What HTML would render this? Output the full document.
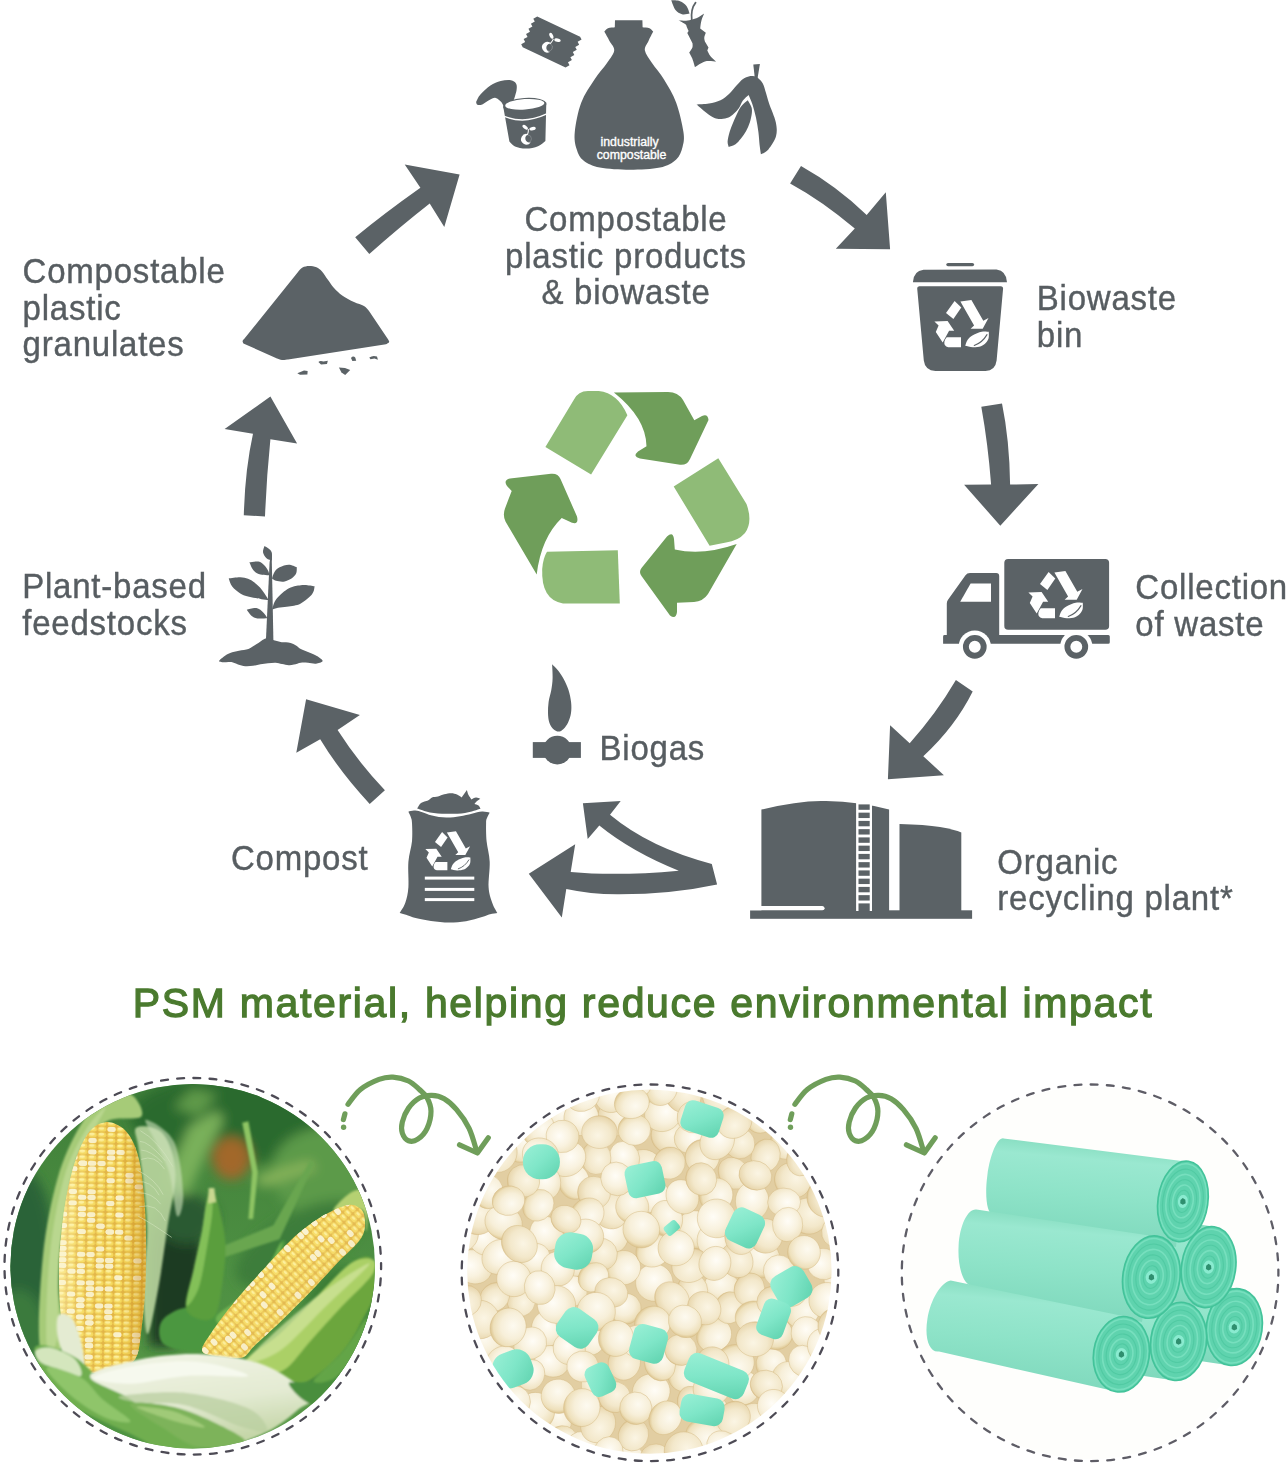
<!DOCTYPE html>
<html><head><meta charset="utf-8"><title>Compostable cycle</title>
<style>
html,body{margin:0;padding:0;background:#fff;}
body{width:1288px;height:1467px;position:relative;overflow:hidden;font-family:"Liberation Sans",sans-serif;}
.t{position:absolute;white-space:nowrap;font-family:"Liberation Sans",sans-serif;letter-spacing:0.78px;-webkit-text-stroke:0.4px #575d61;filter:blur(0.3px);}
svg{position:absolute;left:0;top:0;}
</style></head><body>

<svg width="1288" height="1467" viewBox="0 0 1288 1467">
<defs><linearGradient id="rb" x1="0.08" y1="0" x2="-0.08" y2="1"><stop offset="0" stop-color="#8adfc3"/><stop offset="0.12" stop-color="#9ae8d0"/><stop offset="0.45" stop-color="#8ee3c8"/><stop offset="0.85" stop-color="#80d9bd"/><stop offset="1" stop-color="#74cfb2"/></linearGradient></defs><circle cx="1090.1" cy="1272.8" r="186.3" fill="#fefefc"/><path d="M1170.8,1278.6L1240,1288.9L1228.6,1365.3L1159.4,1354.9C1156.1,1354.4 1156,1337 1159.1,1315.9C1162.3,1294.8 1167.5,1278.1 1170.8,1278.6Z" fill="url(#rb)"/><g transform="translate(1234.3,1327.1) rotate(8)"><ellipse rx="27.9" ry="38.6" fill="#5fd3ae"/><ellipse rx="26.1" ry="36.1" fill="none" stroke="#7fe3c3" stroke-width="1.6" opacity="0.75"/><ellipse rx="22.4" ry="31.0" fill="none" stroke="#4cc79f" stroke-width="1.1" opacity="0.75"/><ellipse rx="18.7" ry="25.9" fill="none" stroke="#7fe3c3" stroke-width="1.6" opacity="0.75"/><ellipse rx="15.1" ry="20.8" fill="none" stroke="#4cc79f" stroke-width="1.1" opacity="0.75"/><ellipse rx="11.4" ry="15.7" fill="none" stroke="#7fe3c3" stroke-width="1.6" opacity="0.75"/><ellipse rx="7.7" ry="10.7" fill="none" stroke="#4cc79f" stroke-width="1.1" opacity="0.75"/><ellipse rx="4.0" ry="5.6" fill="none" stroke="#7fe3c3" stroke-width="1.6" opacity="0.75"/><ellipse rx="27.9" ry="38.6" fill="none" stroke="#43c39a" stroke-width="1.6"/><ellipse rx="5.6" ry="6.2" fill="#8aebd0"/><path d="M-2.6,-1 L-0.6,-3.4 L2.2,-2 L3,1.4 L0.4,3.4 L-2.4,2.2Z" fill="#2f8f6f"/></g><path d="M1145.4,1216.5L1214.6,1226.8L1202.6,1307.4L1133.4,1297C1130.1,1296.5 1130.1,1278.1 1133.4,1255.9C1136.8,1233.6 1142.1,1216 1145.4,1216.5Z" fill="url(#rb)"/><g transform="translate(1208.6,1267.1) rotate(8)"><ellipse rx="27.1" ry="40.7" fill="#5fd3ae"/><ellipse rx="25.3" ry="38.0" fill="none" stroke="#7fe3c3" stroke-width="1.6" opacity="0.75"/><ellipse rx="21.8" ry="32.7" fill="none" stroke="#4cc79f" stroke-width="1.1" opacity="0.75"/><ellipse rx="18.2" ry="27.3" fill="none" stroke="#7fe3c3" stroke-width="1.6" opacity="0.75"/><ellipse rx="14.6" ry="22.0" fill="none" stroke="#4cc79f" stroke-width="1.1" opacity="0.75"/><ellipse rx="11.1" ry="16.6" fill="none" stroke="#7fe3c3" stroke-width="1.6" opacity="0.75"/><ellipse rx="7.5" ry="11.2" fill="none" stroke="#4cc79f" stroke-width="1.1" opacity="0.75"/><ellipse rx="3.9" ry="5.9" fill="none" stroke="#7fe3c3" stroke-width="1.6" opacity="0.75"/><ellipse rx="27.1" ry="40.7" fill="none" stroke="#43c39a" stroke-width="1.6"/><ellipse rx="5.4" ry="6.5" fill="#8aebd0"/><path d="M-2.6,-1 L-0.6,-3.4 L2.2,-2 L3,1.4 L0.4,3.4 L-2.4,2.2Z" fill="#2f8f6f"/></g><path d="M1115.2,1292.2L1184.4,1302.5L1172.8,1380.3L1103.6,1369.9C1100.3,1369.4 1100.2,1351.6 1103.4,1330.2C1106.6,1308.7 1111.9,1291.7 1115.2,1292.2Z" fill="url(#rb)"/><g transform="translate(1178.6,1341.4) rotate(8)"><ellipse rx="27.9" ry="39.3" fill="#5fd3ae"/><ellipse rx="26.1" ry="36.7" fill="none" stroke="#7fe3c3" stroke-width="1.6" opacity="0.75"/><ellipse rx="22.4" ry="31.5" fill="none" stroke="#4cc79f" stroke-width="1.1" opacity="0.75"/><ellipse rx="18.7" ry="26.4" fill="none" stroke="#7fe3c3" stroke-width="1.6" opacity="0.75"/><ellipse rx="15.1" ry="21.2" fill="none" stroke="#4cc79f" stroke-width="1.1" opacity="0.75"/><ellipse rx="11.4" ry="16.0" fill="none" stroke="#7fe3c3" stroke-width="1.6" opacity="0.75"/><ellipse rx="7.7" ry="10.9" fill="none" stroke="#4cc79f" stroke-width="1.1" opacity="0.75"/><ellipse rx="4.0" ry="5.7" fill="none" stroke="#7fe3c3" stroke-width="1.6" opacity="0.75"/><ellipse rx="27.9" ry="39.3" fill="none" stroke="#43c39a" stroke-width="1.6"/><ellipse rx="5.6" ry="6.3" fill="#8aebd0"/><path d="M-2.6,-1 L-0.6,-3.4 L2.2,-2 L3,1.4 L0.4,3.4 L-2.4,2.2Z" fill="#2f8f6f"/></g><path d="M1003.5,1138.4L1185.7,1161.4L1176,1247L993,1215C987,1214.1 984.5,1196.2 987.4,1175C990.3,1153.8 997.5,1137.5 1003.5,1138.4Z" fill="url(#rb)"/><g transform="translate(1182.9,1201.4) rotate(8)"><ellipse rx="25" ry="40.5" fill="#5fd3ae"/><ellipse rx="23.4" ry="37.8" fill="none" stroke="#7fe3c3" stroke-width="1.6" opacity="0.75"/><ellipse rx="20.1" ry="32.5" fill="none" stroke="#4cc79f" stroke-width="1.1" opacity="0.75"/><ellipse rx="16.8" ry="27.2" fill="none" stroke="#7fe3c3" stroke-width="1.6" opacity="0.75"/><ellipse rx="13.5" ry="21.8" fill="none" stroke="#4cc79f" stroke-width="1.1" opacity="0.75"/><ellipse rx="10.2" ry="16.5" fill="none" stroke="#7fe3c3" stroke-width="1.6" opacity="0.75"/><ellipse rx="6.9" ry="11.2" fill="none" stroke="#4cc79f" stroke-width="1.1" opacity="0.75"/><ellipse rx="3.6" ry="5.9" fill="none" stroke="#7fe3c3" stroke-width="1.6" opacity="0.75"/><ellipse rx="25" ry="40.5" fill="none" stroke="#43c39a" stroke-width="1.6"/><ellipse rx="5.0" ry="6.5" fill="#8aebd0"/><path d="M-2.6,-1 L-0.6,-3.4 L2.2,-2 L3,1.4 L0.4,3.4 L-2.4,2.2Z" fill="#2f8f6f"/></g><path d="M976.4,1209.6L1156,1236.6L1142,1322L972,1286C963.4,1285 957.4,1267.1 958.6,1246C959.8,1224.9 967.8,1208.6 976.4,1209.6Z" fill="url(#rb)"/><g transform="translate(1151.4,1277.1) rotate(8)"><ellipse rx="28.6" ry="41.4" fill="#5fd3ae"/><ellipse rx="26.7" ry="38.7" fill="none" stroke="#7fe3c3" stroke-width="1.6" opacity="0.75"/><ellipse rx="23.0" ry="33.2" fill="none" stroke="#4cc79f" stroke-width="1.1" opacity="0.75"/><ellipse rx="19.2" ry="27.8" fill="none" stroke="#7fe3c3" stroke-width="1.6" opacity="0.75"/><ellipse rx="15.4" ry="22.3" fill="none" stroke="#4cc79f" stroke-width="1.1" opacity="0.75"/><ellipse rx="11.7" ry="16.9" fill="none" stroke="#7fe3c3" stroke-width="1.6" opacity="0.75"/><ellipse rx="7.9" ry="11.4" fill="none" stroke="#4cc79f" stroke-width="1.1" opacity="0.75"/><ellipse rx="4.1" ry="6.0" fill="none" stroke="#7fe3c3" stroke-width="1.6" opacity="0.75"/><ellipse rx="28.6" ry="41.4" fill="none" stroke="#43c39a" stroke-width="1.6"/><ellipse rx="5.7" ry="6.6" fill="#8aebd0"/><path d="M-2.6,-1 L-0.6,-3.4 L2.2,-2 L3,1.4 L0.4,3.4 L-2.4,2.2Z" fill="#2f8f6f"/></g><path d="M950.7,1280.6L1126.5,1316.8L1116,1391.6L939,1351.5C929.4,1353.1 924.2,1338.6 927.4,1319C930.6,1299.4 941.1,1282.2 950.7,1280.6Z" fill="url(#rb)"/><g transform="translate(1121.4,1354.3) rotate(8)"><ellipse rx="27.9" ry="37.9" fill="#5fd3ae"/><ellipse rx="26.1" ry="35.4" fill="none" stroke="#7fe3c3" stroke-width="1.6" opacity="0.75"/><ellipse rx="22.4" ry="30.4" fill="none" stroke="#4cc79f" stroke-width="1.1" opacity="0.75"/><ellipse rx="18.7" ry="25.4" fill="none" stroke="#7fe3c3" stroke-width="1.6" opacity="0.75"/><ellipse rx="15.1" ry="20.4" fill="none" stroke="#4cc79f" stroke-width="1.1" opacity="0.75"/><ellipse rx="11.4" ry="15.5" fill="none" stroke="#7fe3c3" stroke-width="1.6" opacity="0.75"/><ellipse rx="7.7" ry="10.5" fill="none" stroke="#4cc79f" stroke-width="1.1" opacity="0.75"/><ellipse rx="4.0" ry="5.5" fill="none" stroke="#7fe3c3" stroke-width="1.6" opacity="0.75"/><ellipse rx="27.9" ry="37.9" fill="none" stroke="#43c39a" stroke-width="1.6"/><ellipse rx="5.6" ry="6.1" fill="#8aebd0"/><path d="M-2.6,-1 L-0.6,-3.4 L2.2,-2 L3,1.4 L0.4,3.4 L-2.4,2.2Z" fill="#2f8f6f"/></g><defs><clipPath id="cp2"><circle cx="649.4" cy="1271.6" r="182.2"/></clipPath><radialGradient id="pg1" cx="0.42" cy="0.38" r="0.62"><stop offset="0" stop-color="#fdfaf0"/><stop offset="0.55" stop-color="#f7efd9"/><stop offset="0.88" stop-color="#eee0bb"/><stop offset="1" stop-color="#e0ca98"/></radialGradient><radialGradient id="pg2" cx="0.55" cy="0.4" r="0.62"><stop offset="0" stop-color="#fbf5e4"/><stop offset="0.6" stop-color="#f3e8cb"/><stop offset="0.9" stop-color="#e9d8b0"/><stop offset="1" stop-color="#dcc28e"/></radialGradient><radialGradient id="pg3" cx="0.4" cy="0.5" r="0.65"><stop offset="0" stop-color="#fffdf7"/><stop offset="0.5" stop-color="#f9f2df"/><stop offset="0.9" stop-color="#efe2c0"/><stop offset="1" stop-color="#dfc896"/></radialGradient><linearGradient id="tg" x1="0" y1="0" x2="1" y2="1"><stop offset="0" stop-color="#9af0d6"/><stop offset="0.5" stop-color="#7fe6c8"/><stop offset="1" stop-color="#5fd2ae"/></linearGradient><filter id="pb" x="-5%" y="-5%" width="110%" height="110%"><feGaussianBlur stdDeviation="0.7"/></filter></defs><g clip-path="url(#cp2)"><g filter="url(#pb)"><rect x="465.2" y="1087.3999999999999" width="368.4" height="368.4" fill="#e2cea2"/><ellipse cx="685.7" cy="1373.8" rx="18.4" ry="17.6" transform="rotate(133 685.7 1373.8)" fill="url(#pg1)" stroke="#d2b67e" stroke-width="0.7" stroke-opacity="0.6"/><ellipse cx="668.5" cy="1136.0" rx="17.7" ry="16.9" transform="rotate(34 668.5 1136.0)" fill="url(#pg2)" stroke="#d2b67e" stroke-width="0.7" stroke-opacity="0.6"/><ellipse cx="689.9" cy="1138.3" rx="15.7" ry="15.2" transform="rotate(163 689.9 1138.3)" fill="url(#pg3)" stroke="#d2b67e" stroke-width="0.7" stroke-opacity="0.6"/><ellipse cx="596.7" cy="1385.1" rx="15.6" ry="15.4" transform="rotate(35 596.7 1385.1)" fill="url(#pg1)" stroke="#d2b67e" stroke-width="0.7" stroke-opacity="0.6"/><ellipse cx="808.3" cy="1216.1" rx="18.8" ry="18.0" transform="rotate(18 808.3 1216.1)" fill="url(#pg2)" stroke="#d2b67e" stroke-width="0.7" stroke-opacity="0.6"/><ellipse cx="836.4" cy="1230.7" rx="16.4" ry="14.3" transform="rotate(116 836.4 1230.7)" fill="url(#pg3)" stroke="#d2b67e" stroke-width="0.7" stroke-opacity="0.6"/><ellipse cx="712.3" cy="1410.6" rx="17.9" ry="15.7" transform="rotate(47 712.3 1410.6)" fill="url(#pg1)" stroke="#d2b67e" stroke-width="0.7" stroke-opacity="0.6"/><ellipse cx="521.4" cy="1300.5" rx="16.0" ry="14.1" transform="rotate(101 521.4 1300.5)" fill="url(#pg2)" stroke="#d2b67e" stroke-width="0.7" stroke-opacity="0.6"/><ellipse cx="628.5" cy="1461.3" rx="16.6" ry="16.5" transform="rotate(148 628.5 1461.3)" fill="url(#pg3)" stroke="#d2b67e" stroke-width="0.7" stroke-opacity="0.6"/><ellipse cx="556.2" cy="1419.0" rx="17.4" ry="15.1" transform="rotate(66 556.2 1419.0)" fill="url(#pg1)" stroke="#d2b67e" stroke-width="0.7" stroke-opacity="0.6"/><ellipse cx="616.1" cy="1117.9" rx="18.8" ry="17.5" transform="rotate(32 616.1 1117.9)" fill="url(#pg2)" stroke="#d2b67e" stroke-width="0.7" stroke-opacity="0.6"/><ellipse cx="547.4" cy="1328.5" rx="17.8" ry="16.0" transform="rotate(93 547.4 1328.5)" fill="url(#pg3)" stroke="#d2b67e" stroke-width="0.7" stroke-opacity="0.6"/><ellipse cx="535.3" cy="1411.7" rx="19.3" ry="19.3" transform="rotate(22 535.3 1411.7)" fill="url(#pg1)" stroke="#d2b67e" stroke-width="0.7" stroke-opacity="0.6"/><ellipse cx="494.8" cy="1297.0" rx="15.7" ry="13.7" transform="rotate(139 494.8 1297.0)" fill="url(#pg2)" stroke="#d2b67e" stroke-width="0.7" stroke-opacity="0.6"/><ellipse cx="663.0" cy="1113.6" rx="18.8" ry="17.6" transform="rotate(144 663.0 1113.6)" fill="url(#pg3)" stroke="#d2b67e" stroke-width="0.7" stroke-opacity="0.6"/><ellipse cx="801.8" cy="1309.9" rx="18.6" ry="17.3" transform="rotate(135 801.8 1309.9)" fill="url(#pg1)" stroke="#d2b67e" stroke-width="0.7" stroke-opacity="0.6"/><ellipse cx="624.3" cy="1362.4" rx="17.8" ry="16.1" transform="rotate(102 624.3 1362.4)" fill="url(#pg2)" stroke="#d2b67e" stroke-width="0.7" stroke-opacity="0.6"/><ellipse cx="610.9" cy="1234.3" rx="19.1" ry="17.1" transform="rotate(68 610.9 1234.3)" fill="url(#pg3)" stroke="#d2b67e" stroke-width="0.7" stroke-opacity="0.6"/><ellipse cx="485.2" cy="1344.1" rx="18.8" ry="18.1" transform="rotate(23 485.2 1344.1)" fill="url(#pg1)" stroke="#d2b67e" stroke-width="0.7" stroke-opacity="0.6"/><ellipse cx="733.7" cy="1173.3" rx="16.9" ry="14.6" transform="rotate(50 733.7 1173.3)" fill="url(#pg2)" stroke="#d2b67e" stroke-width="0.7" stroke-opacity="0.6"/><ellipse cx="473.8" cy="1266.8" rx="18.7" ry="16.7" transform="rotate(25 473.8 1266.8)" fill="url(#pg3)" stroke="#d2b67e" stroke-width="0.7" stroke-opacity="0.6"/><ellipse cx="714.1" cy="1335.3" rx="18.0" ry="16.2" transform="rotate(146 714.1 1335.3)" fill="url(#pg1)" stroke="#d2b67e" stroke-width="0.7" stroke-opacity="0.6"/><ellipse cx="610.6" cy="1210.2" rx="19.0" ry="17.7" transform="rotate(60 610.6 1210.2)" fill="url(#pg2)" stroke="#d2b67e" stroke-width="0.7" stroke-opacity="0.6"/><ellipse cx="840.4" cy="1278.8" rx="16.6" ry="16.4" transform="rotate(92 840.4 1278.8)" fill="url(#pg3)" stroke="#d2b67e" stroke-width="0.7" stroke-opacity="0.6"/><ellipse cx="561.6" cy="1440.9" rx="16.1" ry="15.0" transform="rotate(155 561.6 1440.9)" fill="url(#pg1)" stroke="#d2b67e" stroke-width="0.7" stroke-opacity="0.6"/><ellipse cx="683.0" cy="1095.0" rx="18.7" ry="17.2" transform="rotate(42 683.0 1095.0)" fill="url(#pg2)" stroke="#d2b67e" stroke-width="0.7" stroke-opacity="0.6"/><ellipse cx="654.3" cy="1282.6" rx="18.7" ry="18.7" transform="rotate(87 654.3 1282.6)" fill="url(#pg3)" stroke="#d2b67e" stroke-width="0.7" stroke-opacity="0.6"/><ellipse cx="722.0" cy="1287.3" rx="18.0" ry="15.7" transform="rotate(15 722.0 1287.3)" fill="url(#pg1)" stroke="#d2b67e" stroke-width="0.7" stroke-opacity="0.6"/><ellipse cx="644.9" cy="1165.7" rx="17.8" ry="15.7" transform="rotate(30 644.9 1165.7)" fill="url(#pg2)" stroke="#d2b67e" stroke-width="0.7" stroke-opacity="0.6"/><ellipse cx="624.5" cy="1157.7" rx="16.8" ry="14.8" transform="rotate(65 624.5 1157.7)" fill="url(#pg3)" stroke="#d2b67e" stroke-width="0.7" stroke-opacity="0.6"/><ellipse cx="634.3" cy="1129.7" rx="16.3" ry="15.6" transform="rotate(177 634.3 1129.7)" fill="url(#pg1)" stroke="#d2b67e" stroke-width="0.7" stroke-opacity="0.6"/><ellipse cx="692.7" cy="1289.6" rx="16.3" ry="14.8" transform="rotate(69 692.7 1289.6)" fill="url(#pg2)" stroke="#d2b67e" stroke-width="0.7" stroke-opacity="0.6"/><ellipse cx="572.9" cy="1290.4" rx="16.0" ry="13.9" transform="rotate(63 572.9 1290.4)" fill="url(#pg3)" stroke="#d2b67e" stroke-width="0.7" stroke-opacity="0.6"/><ellipse cx="660.9" cy="1088.4" rx="17.3" ry="16.3" transform="rotate(115 660.9 1088.4)" fill="url(#pg1)" stroke="#d2b67e" stroke-width="0.7" stroke-opacity="0.6"/><ellipse cx="571.6" cy="1323.8" rx="15.7" ry="14.7" transform="rotate(6 571.6 1323.8)" fill="url(#pg2)" stroke="#d2b67e" stroke-width="0.7" stroke-opacity="0.6"/><ellipse cx="743.3" cy="1387.7" rx="17.1" ry="16.5" transform="rotate(101 743.3 1387.7)" fill="url(#pg3)" stroke="#d2b67e" stroke-width="0.7" stroke-opacity="0.6"/><ellipse cx="583.0" cy="1447.1" rx="16.7" ry="15.4" transform="rotate(27 583.0 1447.1)" fill="url(#pg1)" stroke="#d2b67e" stroke-width="0.7" stroke-opacity="0.6"/><ellipse cx="729.5" cy="1307.7" rx="16.1" ry="14.5" transform="rotate(107 729.5 1307.7)" fill="url(#pg2)" stroke="#d2b67e" stroke-width="0.7" stroke-opacity="0.6"/><ellipse cx="577.0" cy="1258.6" rx="17.7" ry="17.6" transform="rotate(87 577.0 1258.6)" fill="url(#pg3)" stroke="#d2b67e" stroke-width="0.7" stroke-opacity="0.6"/><ellipse cx="557.7" cy="1111.1" rx="16.4" ry="14.9" transform="rotate(139 557.7 1111.1)" fill="url(#pg1)" stroke="#d2b67e" stroke-width="0.7" stroke-opacity="0.6"/><ellipse cx="755.8" cy="1420.3" rx="18.7" ry="16.7" transform="rotate(22 755.8 1420.3)" fill="url(#pg2)" stroke="#d2b67e" stroke-width="0.7" stroke-opacity="0.6"/><ellipse cx="485.7" cy="1238.7" rx="18.5" ry="16.3" transform="rotate(34 485.7 1238.7)" fill="url(#pg3)" stroke="#d2b67e" stroke-width="0.7" stroke-opacity="0.6"/><ellipse cx="574.0" cy="1181.7" rx="17.7" ry="15.5" transform="rotate(79 574.0 1181.7)" fill="url(#pg1)" stroke="#d2b67e" stroke-width="0.7" stroke-opacity="0.6"/><ellipse cx="690.8" cy="1401.7" rx="15.5" ry="13.4" transform="rotate(80 690.8 1401.7)" fill="url(#pg2)" stroke="#d2b67e" stroke-width="0.7" stroke-opacity="0.6"/><ellipse cx="581.3" cy="1117.7" rx="18.0" ry="17.3" transform="rotate(108 581.3 1117.7)" fill="url(#pg3)" stroke="#d2b67e" stroke-width="0.7" stroke-opacity="0.6"/><ellipse cx="623.4" cy="1267.7" rx="17.3" ry="17.1" transform="rotate(131 623.4 1267.7)" fill="url(#pg1)" stroke="#d2b67e" stroke-width="0.7" stroke-opacity="0.6"/><ellipse cx="792.8" cy="1180.3" rx="18.5" ry="17.7" transform="rotate(30 792.8 1180.3)" fill="url(#pg2)" stroke="#d2b67e" stroke-width="0.7" stroke-opacity="0.6"/><ellipse cx="499.1" cy="1256.9" rx="18.2" ry="16.3" transform="rotate(132 499.1 1256.9)" fill="url(#pg3)" stroke="#d2b67e" stroke-width="0.7" stroke-opacity="0.6"/><ellipse cx="589.9" cy="1339.4" rx="16.4" ry="15.6" transform="rotate(127 589.9 1339.4)" fill="url(#pg1)" stroke="#d2b67e" stroke-width="0.7" stroke-opacity="0.6"/><ellipse cx="596.2" cy="1157.7" rx="16.8" ry="14.7" transform="rotate(91 596.2 1157.7)" fill="url(#pg2)" stroke="#d2b67e" stroke-width="0.7" stroke-opacity="0.6"/><ellipse cx="791.4" cy="1289.1" rx="17.3" ry="15.9" transform="rotate(75 791.4 1289.1)" fill="url(#pg3)" stroke="#d2b67e" stroke-width="0.7" stroke-opacity="0.6"/><ellipse cx="558.4" cy="1396.3" rx="17.3" ry="17.1" transform="rotate(29 558.4 1396.3)" fill="url(#pg1)" stroke="#d2b67e" stroke-width="0.7" stroke-opacity="0.6"/><ellipse cx="461.2" cy="1233.9" rx="17.8" ry="17.2" transform="rotate(108 461.2 1233.9)" fill="url(#pg2)" stroke="#d2b67e" stroke-width="0.7" stroke-opacity="0.6"/><ellipse cx="752.2" cy="1201.1" rx="19.2" ry="16.8" transform="rotate(90 752.2 1201.1)" fill="url(#pg3)" stroke="#d2b67e" stroke-width="0.7" stroke-opacity="0.6"/><ellipse cx="786.9" cy="1142.2" rx="17.4" ry="16.4" transform="rotate(129 786.9 1142.2)" fill="url(#pg1)" stroke="#d2b67e" stroke-width="0.7" stroke-opacity="0.6"/><ellipse cx="601.0" cy="1254.3" rx="16.4" ry="16.1" transform="rotate(17 601.0 1254.3)" fill="url(#pg2)" stroke="#d2b67e" stroke-width="0.7" stroke-opacity="0.6"/><ellipse cx="567.2" cy="1158.9" rx="19.2" ry="17.0" transform="rotate(147 567.2 1158.9)" fill="url(#pg3)" stroke="#d2b67e" stroke-width="0.7" stroke-opacity="0.6"/><ellipse cx="761.2" cy="1259.2" rx="18.8" ry="18.8" transform="rotate(28 761.2 1259.2)" fill="url(#pg1)" stroke="#d2b67e" stroke-width="0.7" stroke-opacity="0.6"/><ellipse cx="477.4" cy="1216.4" rx="18.8" ry="18.2" transform="rotate(11 477.4 1216.4)" fill="url(#pg2)" stroke="#d2b67e" stroke-width="0.7" stroke-opacity="0.6"/><ellipse cx="784.1" cy="1202.3" rx="16.5" ry="14.2" transform="rotate(179 784.1 1202.3)" fill="url(#pg3)" stroke="#d2b67e" stroke-width="0.7" stroke-opacity="0.6"/><ellipse cx="771.2" cy="1364.3" rx="15.7" ry="15.3" transform="rotate(79 771.2 1364.3)" fill="url(#pg1)" stroke="#d2b67e" stroke-width="0.7" stroke-opacity="0.6"/><ellipse cx="702.4" cy="1156.9" rx="17.5" ry="17.1" transform="rotate(118 702.4 1156.9)" fill="url(#pg2)" stroke="#d2b67e" stroke-width="0.7" stroke-opacity="0.6"/><ellipse cx="546.5" cy="1233.5" rx="17.6" ry="16.3" transform="rotate(53 546.5 1233.5)" fill="url(#pg3)" stroke="#d2b67e" stroke-width="0.7" stroke-opacity="0.6"/><ellipse cx="735.1" cy="1362.4" rx="19.1" ry="17.9" transform="rotate(179 735.1 1362.4)" fill="url(#pg1)" stroke="#d2b67e" stroke-width="0.7" stroke-opacity="0.6"/><ellipse cx="765.3" cy="1235.9" rx="17.4" ry="17.1" transform="rotate(40 765.3 1235.9)" fill="url(#pg2)" stroke="#d2b67e" stroke-width="0.7" stroke-opacity="0.6"/><ellipse cx="651.2" cy="1391.8" rx="19.0" ry="18.0" transform="rotate(160 651.2 1391.8)" fill="url(#pg3)" stroke="#d2b67e" stroke-width="0.7" stroke-opacity="0.6"/><ellipse cx="659.9" cy="1363.8" rx="17.4" ry="15.3" transform="rotate(69 659.9 1363.8)" fill="url(#pg1)" stroke="#d2b67e" stroke-width="0.7" stroke-opacity="0.6"/><ellipse cx="765.6" cy="1155.6" rx="16.7" ry="14.5" transform="rotate(106 765.6 1155.6)" fill="url(#pg2)" stroke="#d2b67e" stroke-width="0.7" stroke-opacity="0.6"/><ellipse cx="535.5" cy="1258.9" rx="15.6" ry="15.1" transform="rotate(103 535.5 1258.9)" fill="url(#pg3)" stroke="#d2b67e" stroke-width="0.7" stroke-opacity="0.6"/><ellipse cx="637.3" cy="1082.1" rx="17.5" ry="15.1" transform="rotate(129 637.3 1082.1)" fill="url(#pg1)" stroke="#d2b67e" stroke-width="0.7" stroke-opacity="0.6"/><ellipse cx="739.1" cy="1143.1" rx="16.0" ry="15.4" transform="rotate(47 739.1 1143.1)" fill="url(#pg2)" stroke="#d2b67e" stroke-width="0.7" stroke-opacity="0.6"/><ellipse cx="552.0" cy="1361.3" rx="17.5" ry="15.5" transform="rotate(22 552.0 1361.3)" fill="url(#pg3)" stroke="#d2b67e" stroke-width="0.7" stroke-opacity="0.6"/><ellipse cx="695.4" cy="1229.8" rx="19.5" ry="18.4" transform="rotate(53 695.4 1229.8)" fill="url(#pg1)" stroke="#d2b67e" stroke-width="0.7" stroke-opacity="0.6"/><ellipse cx="633.4" cy="1435.0" rx="16.3" ry="14.9" transform="rotate(118 633.4 1435.0)" fill="url(#pg2)" stroke="#d2b67e" stroke-width="0.7" stroke-opacity="0.6"/><ellipse cx="787.6" cy="1224.5" rx="17.1" ry="15.1" transform="rotate(93 787.6 1224.5)" fill="url(#pg3)" stroke="#d2b67e" stroke-width="0.7" stroke-opacity="0.6"/><ellipse cx="519.7" cy="1143.4" rx="18.9" ry="17.1" transform="rotate(87 519.7 1143.4)" fill="url(#pg1)" stroke="#d2b67e" stroke-width="0.7" stroke-opacity="0.6"/><ellipse cx="669.4" cy="1163.1" rx="16.4" ry="15.6" transform="rotate(128 669.4 1163.1)" fill="url(#pg2)" stroke="#d2b67e" stroke-width="0.7" stroke-opacity="0.6"/><ellipse cx="557.8" cy="1268.8" rx="17.3" ry="16.6" transform="rotate(77 557.8 1268.8)" fill="url(#pg3)" stroke="#d2b67e" stroke-width="0.7" stroke-opacity="0.6"/><ellipse cx="704.4" cy="1434.1" rx="18.5" ry="15.9" transform="rotate(178 704.4 1434.1)" fill="url(#pg1)" stroke="#d2b67e" stroke-width="0.7" stroke-opacity="0.6"/><ellipse cx="599.5" cy="1132.1" rx="17.8" ry="16.4" transform="rotate(179 599.5 1132.1)" fill="url(#pg2)" stroke="#d2b67e" stroke-width="0.7" stroke-opacity="0.6"/><ellipse cx="652.8" cy="1196.7" rx="17.5" ry="15.9" transform="rotate(174 652.8 1196.7)" fill="url(#pg3)" stroke="#d2b67e" stroke-width="0.7" stroke-opacity="0.6"/><ellipse cx="503.6" cy="1222.6" rx="19.1" ry="16.9" transform="rotate(27 503.6 1222.6)" fill="url(#pg1)" stroke="#d2b67e" stroke-width="0.7" stroke-opacity="0.6"/><ellipse cx="656.0" cy="1460.4" rx="16.7" ry="16.1" transform="rotate(47 656.0 1460.4)" fill="url(#pg2)" stroke="#d2b67e" stroke-width="0.7" stroke-opacity="0.6"/><ellipse cx="545.5" cy="1182.8" rx="17.5" ry="15.2" transform="rotate(89 545.5 1182.8)" fill="url(#pg3)" stroke="#d2b67e" stroke-width="0.7" stroke-opacity="0.6"/><ellipse cx="788.3" cy="1379.2" rx="17.7" ry="16.7" transform="rotate(89 788.3 1379.2)" fill="url(#pg1)" stroke="#d2b67e" stroke-width="0.7" stroke-opacity="0.6"/><ellipse cx="712.4" cy="1363.7" rx="16.9" ry="16.5" transform="rotate(65 712.4 1363.7)" fill="url(#pg2)" stroke="#d2b67e" stroke-width="0.7" stroke-opacity="0.6"/><ellipse cx="711.4" cy="1388.4" rx="18.4" ry="17.5" transform="rotate(156 711.4 1388.4)" fill="url(#pg3)" stroke="#d2b67e" stroke-width="0.7" stroke-opacity="0.6"/><ellipse cx="593.4" cy="1277.3" rx="15.9" ry="14.0" transform="rotate(144 593.4 1277.3)" fill="url(#pg1)" stroke="#d2b67e" stroke-width="0.7" stroke-opacity="0.6"/><ellipse cx="672.1" cy="1299.6" rx="18.8" ry="16.3" transform="rotate(49 672.1 1299.6)" fill="url(#pg2)" stroke="#d2b67e" stroke-width="0.7" stroke-opacity="0.6"/><ellipse cx="714.3" cy="1240.9" rx="18.3" ry="17.1" transform="rotate(74 714.3 1240.9)" fill="url(#pg3)" stroke="#d2b67e" stroke-width="0.7" stroke-opacity="0.6"/><ellipse cx="716.0" cy="1195.1" rx="17.2" ry="16.7" transform="rotate(124 716.0 1195.1)" fill="url(#pg1)" stroke="#d2b67e" stroke-width="0.7" stroke-opacity="0.6"/><ellipse cx="519.4" cy="1244.0" rx="19.3" ry="17.1" transform="rotate(53 519.4 1244.0)" fill="url(#pg2)" stroke="#d2b67e" stroke-width="0.7" stroke-opacity="0.6"/><ellipse cx="611.2" cy="1095.5" rx="17.1" ry="16.8" transform="rotate(117 611.2 1095.5)" fill="url(#pg3)" stroke="#d2b67e" stroke-width="0.7" stroke-opacity="0.6"/><ellipse cx="666.6" cy="1218.3" rx="18.1" ry="15.7" transform="rotate(71 666.6 1218.3)" fill="url(#pg1)" stroke="#d2b67e" stroke-width="0.7" stroke-opacity="0.6"/><ellipse cx="598.1" cy="1424.4" rx="18.9" ry="16.8" transform="rotate(125 598.1 1424.4)" fill="url(#pg2)" stroke="#d2b67e" stroke-width="0.7" stroke-opacity="0.6"/><ellipse cx="826.8" cy="1300.3" rx="18.0" ry="17.7" transform="rotate(141 826.8 1300.3)" fill="url(#pg3)" stroke="#d2b67e" stroke-width="0.7" stroke-opacity="0.6"/><ellipse cx="538.3" cy="1129.1" rx="17.4" ry="15.3" transform="rotate(120 538.3 1129.1)" fill="url(#pg1)" stroke="#d2b67e" stroke-width="0.7" stroke-opacity="0.6"/><ellipse cx="749.4" cy="1289.3" rx="16.5" ry="15.2" transform="rotate(108 749.4 1289.3)" fill="url(#pg2)" stroke="#d2b67e" stroke-width="0.7" stroke-opacity="0.6"/><ellipse cx="569.3" cy="1348.4" rx="16.4" ry="16.1" transform="rotate(53 569.3 1348.4)" fill="url(#pg3)" stroke="#d2b67e" stroke-width="0.7" stroke-opacity="0.6"/><ellipse cx="488.2" cy="1191.9" rx="16.8" ry="15.0" transform="rotate(92 488.2 1191.9)" fill="url(#pg1)" stroke="#d2b67e" stroke-width="0.7" stroke-opacity="0.6"/><ellipse cx="690.4" cy="1265.4" rx="18.9" ry="16.7" transform="rotate(155 690.4 1265.4)" fill="url(#pg2)" stroke="#d2b67e" stroke-width="0.7" stroke-opacity="0.6"/><ellipse cx="682.4" cy="1196.8" rx="17.8" ry="15.7" transform="rotate(55 682.4 1196.8)" fill="url(#pg3)" stroke="#d2b67e" stroke-width="0.7" stroke-opacity="0.6"/><ellipse cx="625.8" cy="1308.8" rx="15.5" ry="15.4" transform="rotate(5 625.8 1308.8)" fill="url(#pg1)" stroke="#d2b67e" stroke-width="0.7" stroke-opacity="0.6"/><ellipse cx="479.9" cy="1319.5" rx="19.3" ry="19.2" transform="rotate(44 479.9 1319.5)" fill="url(#pg2)" stroke="#d2b67e" stroke-width="0.7" stroke-opacity="0.6"/><ellipse cx="562.5" cy="1136.4" rx="16.5" ry="16.2" transform="rotate(8 562.5 1136.4)" fill="url(#pg3)" stroke="#d2b67e" stroke-width="0.7" stroke-opacity="0.6"/><ellipse cx="652.5" cy="1323.5" rx="18.2" ry="17.2" transform="rotate(155 652.5 1323.5)" fill="url(#pg1)" stroke="#d2b67e" stroke-width="0.7" stroke-opacity="0.6"/><ellipse cx="614.6" cy="1397.1" rx="16.1" ry="15.5" transform="rotate(14 614.6 1397.1)" fill="url(#pg2)" stroke="#d2b67e" stroke-width="0.7" stroke-opacity="0.6"/><ellipse cx="513.9" cy="1279.0" rx="17.7" ry="17.2" transform="rotate(78 513.9 1279.0)" fill="url(#pg3)" stroke="#d2b67e" stroke-width="0.7" stroke-opacity="0.6"/><ellipse cx="753.7" cy="1317.2" rx="18.5" ry="16.2" transform="rotate(178 753.7 1317.2)" fill="url(#pg1)" stroke="#d2b67e" stroke-width="0.7" stroke-opacity="0.6"/><ellipse cx="594.0" cy="1192.7" rx="16.5" ry="16.3" transform="rotate(45 594.0 1192.7)" fill="url(#pg2)" stroke="#d2b67e" stroke-width="0.7" stroke-opacity="0.6"/><ellipse cx="639.9" cy="1341.6" rx="19.0" ry="16.6" transform="rotate(7 639.9 1341.6)" fill="url(#pg3)" stroke="#d2b67e" stroke-width="0.7" stroke-opacity="0.6"/><ellipse cx="581.8" cy="1407.6" rx="19.0" ry="18.2" transform="rotate(101 581.8 1407.6)" fill="url(#pg1)" stroke="#d2b67e" stroke-width="0.7" stroke-opacity="0.6"/><ellipse cx="680.8" cy="1349.8" rx="16.2" ry="15.6" transform="rotate(16 680.8 1349.8)" fill="url(#pg2)" stroke="#d2b67e" stroke-width="0.7" stroke-opacity="0.6"/><ellipse cx="608.1" cy="1452.9" rx="16.5" ry="14.7" transform="rotate(114 608.1 1452.9)" fill="url(#pg3)" stroke="#d2b67e" stroke-width="0.7" stroke-opacity="0.6"/><ellipse cx="631.8" cy="1103.0" rx="17.5" ry="15.5" transform="rotate(165 631.8 1103.0)" fill="url(#pg1)" stroke="#d2b67e" stroke-width="0.7" stroke-opacity="0.6"/><ellipse cx="701.2" cy="1179.0" rx="16.4" ry="15.4" transform="rotate(71 701.2 1179.0)" fill="url(#pg2)" stroke="#d2b67e" stroke-width="0.7" stroke-opacity="0.6"/><ellipse cx="502.7" cy="1363.7" rx="18.6" ry="16.5" transform="rotate(131 502.7 1363.7)" fill="url(#pg3)" stroke="#d2b67e" stroke-width="0.7" stroke-opacity="0.6"/><ellipse cx="653.3" cy="1250.6" rx="17.7" ry="16.1" transform="rotate(151 653.3 1250.6)" fill="url(#pg1)" stroke="#d2b67e" stroke-width="0.7" stroke-opacity="0.6"/><ellipse cx="683.7" cy="1451.3" rx="19.5" ry="19.5" transform="rotate(23 683.7 1451.3)" fill="url(#pg2)" stroke="#d2b67e" stroke-width="0.7" stroke-opacity="0.6"/><ellipse cx="717.2" cy="1141.3" rx="19.1" ry="16.5" transform="rotate(123 717.2 1141.3)" fill="url(#pg3)" stroke="#d2b67e" stroke-width="0.7" stroke-opacity="0.6"/><ellipse cx="587.0" cy="1214.6" rx="17.9" ry="15.7" transform="rotate(140 587.0 1214.6)" fill="url(#pg1)" stroke="#d2b67e" stroke-width="0.7" stroke-opacity="0.6"/><ellipse cx="721.3" cy="1094.9" rx="18.9" ry="18.2" transform="rotate(158 721.3 1094.9)" fill="url(#pg2)" stroke="#d2b67e" stroke-width="0.7" stroke-opacity="0.6"/><ellipse cx="779.3" cy="1271.3" rx="16.4" ry="15.8" transform="rotate(62 779.3 1271.3)" fill="url(#pg3)" stroke="#d2b67e" stroke-width="0.7" stroke-opacity="0.6"/><ellipse cx="632.2" cy="1207.0" rx="16.6" ry="16.4" transform="rotate(40 632.2 1207.0)" fill="url(#pg1)" stroke="#d2b67e" stroke-width="0.7" stroke-opacity="0.6"/><ellipse cx="766.3" cy="1385.3" rx="16.4" ry="14.9" transform="rotate(25 766.3 1385.3)" fill="url(#pg2)" stroke="#d2b67e" stroke-width="0.7" stroke-opacity="0.6"/><ellipse cx="616.8" cy="1178.9" rx="17.0" ry="15.8" transform="rotate(67 616.8 1178.9)" fill="url(#pg3)" stroke="#d2b67e" stroke-width="0.7" stroke-opacity="0.6"/><ellipse cx="760.9" cy="1115.9" rx="17.4" ry="16.0" transform="rotate(112 760.9 1115.9)" fill="url(#pg1)" stroke="#d2b67e" stroke-width="0.7" stroke-opacity="0.6"/><ellipse cx="801.1" cy="1159.6" rx="16.3" ry="14.5" transform="rotate(95 801.1 1159.6)" fill="url(#pg2)" stroke="#d2b67e" stroke-width="0.7" stroke-opacity="0.6"/><ellipse cx="823.5" cy="1264.0" rx="16.6" ry="15.6" transform="rotate(13 823.5 1264.0)" fill="url(#pg3)" stroke="#d2b67e" stroke-width="0.7" stroke-opacity="0.6"/><ellipse cx="497.3" cy="1387.9" rx="17.5" ry="15.4" transform="rotate(63 497.3 1387.9)" fill="url(#pg1)" stroke="#d2b67e" stroke-width="0.7" stroke-opacity="0.6"/><ellipse cx="465.9" cy="1300.9" rx="15.9" ry="15.1" transform="rotate(132 465.9 1300.9)" fill="url(#pg2)" stroke="#d2b67e" stroke-width="0.7" stroke-opacity="0.6"/><ellipse cx="716.7" cy="1218.4" rx="19.4" ry="19.4" transform="rotate(26 716.7 1218.4)" fill="url(#pg3)" stroke="#d2b67e" stroke-width="0.7" stroke-opacity="0.6"/><ellipse cx="635.8" cy="1408.3" rx="16.3" ry="16.1" transform="rotate(63 635.8 1408.3)" fill="url(#pg1)" stroke="#d2b67e" stroke-width="0.7" stroke-opacity="0.6"/><ellipse cx="499.9" cy="1154.4" rx="18.8" ry="16.4" transform="rotate(126 499.9 1154.4)" fill="url(#pg2)" stroke="#d2b67e" stroke-width="0.7" stroke-opacity="0.6"/><ellipse cx="676.1" cy="1248.0" rx="18.1" ry="17.7" transform="rotate(166 676.1 1248.0)" fill="url(#pg3)" stroke="#d2b67e" stroke-width="0.7" stroke-opacity="0.6"/><ellipse cx="775.8" cy="1333.4" rx="17.0" ry="16.1" transform="rotate(26 775.8 1333.4)" fill="url(#pg1)" stroke="#d2b67e" stroke-width="0.7" stroke-opacity="0.6"/><ellipse cx="736.6" cy="1260.3" rx="17.9" ry="15.8" transform="rotate(57 736.6 1260.3)" fill="url(#pg2)" stroke="#d2b67e" stroke-width="0.7" stroke-opacity="0.6"/><ellipse cx="806.4" cy="1332.6" rx="16.0" ry="15.3" transform="rotate(85 806.4 1332.6)" fill="url(#pg3)" stroke="#d2b67e" stroke-width="0.7" stroke-opacity="0.6"/><ellipse cx="586.3" cy="1236.2" rx="17.6" ry="16.9" transform="rotate(33 586.3 1236.2)" fill="url(#pg1)" stroke="#d2b67e" stroke-width="0.7" stroke-opacity="0.6"/><ellipse cx="704.2" cy="1308.2" rx="17.4" ry="15.9" transform="rotate(44 704.2 1308.2)" fill="url(#pg2)" stroke="#d2b67e" stroke-width="0.7" stroke-opacity="0.6"/><ellipse cx="582.8" cy="1366.5" rx="16.0" ry="15.5" transform="rotate(12 582.8 1366.5)" fill="url(#pg3)" stroke="#d2b67e" stroke-width="0.7" stroke-opacity="0.6"/><ellipse cx="538.3" cy="1205.3" rx="16.7" ry="14.7" transform="rotate(131 538.3 1205.3)" fill="url(#pg1)" stroke="#d2b67e" stroke-width="0.7" stroke-opacity="0.6"/><ellipse cx="611.3" cy="1292.5" rx="16.7" ry="14.8" transform="rotate(16 611.3 1292.5)" fill="url(#pg2)" stroke="#d2b67e" stroke-width="0.7" stroke-opacity="0.6"/><ellipse cx="530.1" cy="1343.3" rx="17.0" ry="15.8" transform="rotate(141 530.1 1343.3)" fill="url(#pg3)" stroke="#d2b67e" stroke-width="0.7" stroke-opacity="0.6"/><ellipse cx="583.0" cy="1095.8" rx="17.3" ry="15.1" transform="rotate(149 583.0 1095.8)" fill="url(#pg1)" stroke="#d2b67e" stroke-width="0.7" stroke-opacity="0.6"/><ellipse cx="754.8" cy="1339.2" rx="18.8" ry="17.4" transform="rotate(174 754.8 1339.2)" fill="url(#pg2)" stroke="#d2b67e" stroke-width="0.7" stroke-opacity="0.6"/><ellipse cx="556.4" cy="1304.5" rx="19.3" ry="18.8" transform="rotate(27 556.4 1304.5)" fill="url(#pg3)" stroke="#d2b67e" stroke-width="0.7" stroke-opacity="0.6"/><ellipse cx="514.5" cy="1401.7" rx="16.0" ry="15.9" transform="rotate(69 514.5 1401.7)" fill="url(#pg1)" stroke="#d2b67e" stroke-width="0.7" stroke-opacity="0.6"/><ellipse cx="523.5" cy="1180.9" rx="16.3" ry="16.1" transform="rotate(52 523.5 1180.9)" fill="url(#pg2)" stroke="#d2b67e" stroke-width="0.7" stroke-opacity="0.6"/><ellipse cx="540.4" cy="1154.5" rx="18.2" ry="16.4" transform="rotate(18 540.4 1154.5)" fill="url(#pg3)" stroke="#d2b67e" stroke-width="0.7" stroke-opacity="0.6"/><ellipse cx="596.2" cy="1311.6" rx="19.3" ry="19.1" transform="rotate(48 596.2 1311.6)" fill="url(#pg1)" stroke="#d2b67e" stroke-width="0.7" stroke-opacity="0.6"/><ellipse cx="734.6" cy="1122.0" rx="17.9" ry="15.8" transform="rotate(148 734.6 1122.0)" fill="url(#pg2)" stroke="#d2b67e" stroke-width="0.7" stroke-opacity="0.6"/><ellipse cx="693.6" cy="1117.1" rx="16.5" ry="15.9" transform="rotate(172 693.6 1117.1)" fill="url(#pg3)" stroke="#d2b67e" stroke-width="0.7" stroke-opacity="0.6"/><ellipse cx="641.3" cy="1229.6" rx="18.4" ry="18.2" transform="rotate(45 641.3 1229.6)" fill="url(#pg1)" stroke="#d2b67e" stroke-width="0.7" stroke-opacity="0.6"/><ellipse cx="825.7" cy="1198.0" rx="19.3" ry="18.6" transform="rotate(63 825.7 1198.0)" fill="url(#pg2)" stroke="#d2b67e" stroke-width="0.7" stroke-opacity="0.6"/><ellipse cx="539.7" cy="1287.6" rx="17.0" ry="15.3" transform="rotate(75 539.7 1287.6)" fill="url(#pg3)" stroke="#d2b67e" stroke-width="0.7" stroke-opacity="0.6"/><ellipse cx="685.0" cy="1321.4" rx="17.0" ry="15.9" transform="rotate(37 685.0 1321.4)" fill="url(#pg1)" stroke="#d2b67e" stroke-width="0.7" stroke-opacity="0.6"/><ellipse cx="772.5" cy="1301.1" rx="15.8" ry="14.8" transform="rotate(153 772.5 1301.1)" fill="url(#pg2)" stroke="#d2b67e" stroke-width="0.7" stroke-opacity="0.6"/><ellipse cx="803.2" cy="1360.9" rx="15.8" ry="14.3" transform="rotate(67 803.2 1360.9)" fill="url(#pg3)" stroke="#d2b67e" stroke-width="0.7" stroke-opacity="0.6"/><ellipse cx="508.1" cy="1327.4" rx="19.5" ry="17.9" transform="rotate(108 508.1 1327.4)" fill="url(#pg1)" stroke="#d2b67e" stroke-width="0.7" stroke-opacity="0.6"/><ellipse cx="565.9" cy="1219.3" rx="15.5" ry="13.6" transform="rotate(30 565.9 1219.3)" fill="url(#pg2)" stroke="#d2b67e" stroke-width="0.7" stroke-opacity="0.6"/><ellipse cx="531.0" cy="1374.9" rx="15.6" ry="13.5" transform="rotate(113 531.0 1374.9)" fill="url(#pg3)" stroke="#d2b67e" stroke-width="0.7" stroke-opacity="0.6"/><ellipse cx="616.0" cy="1338.4" rx="18.1" ry="17.5" transform="rotate(110 616.0 1338.4)" fill="url(#pg1)" stroke="#d2b67e" stroke-width="0.7" stroke-opacity="0.6"/><ellipse cx="740.9" cy="1236.8" rx="17.7" ry="16.1" transform="rotate(87 740.9 1236.8)" fill="url(#pg2)" stroke="#d2b67e" stroke-width="0.7" stroke-opacity="0.6"/><ellipse cx="824.8" cy="1346.6" rx="18.7" ry="16.9" transform="rotate(58 824.8 1346.6)" fill="url(#pg3)" stroke="#d2b67e" stroke-width="0.7" stroke-opacity="0.6"/><ellipse cx="804.0" cy="1252.4" rx="16.9" ry="16.4" transform="rotate(80 804.0 1252.4)" fill="url(#pg1)" stroke="#d2b67e" stroke-width="0.7" stroke-opacity="0.6"/><ellipse cx="755.4" cy="1175.4" rx="16.6" ry="14.5" transform="rotate(18 755.4 1175.4)" fill="url(#pg2)" stroke="#d2b67e" stroke-width="0.7" stroke-opacity="0.6"/><ellipse cx="774.0" cy="1406.1" rx="16.9" ry="16.4" transform="rotate(50 774.0 1406.1)" fill="url(#pg3)" stroke="#d2b67e" stroke-width="0.7" stroke-opacity="0.6"/><ellipse cx="508.5" cy="1200.7" rx="16.4" ry="14.7" transform="rotate(167 508.5 1200.7)" fill="url(#pg1)" stroke="#d2b67e" stroke-width="0.7" stroke-opacity="0.6"/><ellipse cx="733.5" cy="1418.0" rx="17.6" ry="15.9" transform="rotate(138 733.5 1418.0)" fill="url(#pg2)" stroke="#d2b67e" stroke-width="0.7" stroke-opacity="0.6"/><ellipse cx="722.9" cy="1446.2" rx="16.7" ry="14.8" transform="rotate(34 722.9 1446.2)" fill="url(#pg3)" stroke="#d2b67e" stroke-width="0.7" stroke-opacity="0.6"/><ellipse cx="665.3" cy="1417.8" rx="17.6" ry="15.6" transform="rotate(129 665.3 1417.8)" fill="url(#pg1)" stroke="#d2b67e" stroke-width="0.7" stroke-opacity="0.6"/><ellipse cx="833.8" cy="1324.7" rx="17.0" ry="15.5" transform="rotate(122 833.8 1324.7)" fill="url(#pg2)" stroke="#d2b67e" stroke-width="0.7" stroke-opacity="0.6"/><ellipse cx="714.9" cy="1263.4" rx="17.2" ry="15.8" transform="rotate(112 714.9 1263.4)" fill="url(#pg3)" stroke="#d2b67e" stroke-width="0.7" stroke-opacity="0.6"/><rect x="682.0" y="1103.5" width="40" height="31" rx="8" transform="rotate(18 702 1119)" fill="url(#tg)"/><rect x="522.9" y="1144.3" width="37" height="35" rx="17" transform="rotate(0 541.4 1161.8)" fill="url(#tg)"/><rect x="626.0" y="1163.1" width="38" height="33" rx="8" transform="rotate(-12 645 1179.6)" fill="url(#tg)"/><rect x="728.0" y="1209.9" width="34" height="36" rx="9" transform="rotate(25 745 1227.9)" fill="url(#tg)"/><rect x="554.6" y="1233.0" width="38" height="36" rx="15" transform="rotate(10 573.6 1251)" fill="url(#tg)"/><rect x="664.3" y="1222.4" width="15" height="11" rx="3" transform="rotate(-40 671.8 1227.9)" fill="url(#tg)"/><rect x="772.9" y="1269.3" width="37" height="35" rx="10" transform="rotate(-30 791.4 1286.8)" fill="url(#tg)"/><rect x="759.6" y="1299.9" width="28" height="38" rx="8" transform="rotate(20 773.6 1318.9)" fill="url(#tg)"/><rect x="558.1" y="1310.9" width="38" height="34" rx="10" transform="rotate(35 577.1 1327.9)" fill="url(#tg)"/><rect x="631.1" y="1325.9" width="35" height="36" rx="9" transform="rotate(15 648.6 1343.9)" fill="url(#tg)"/><rect x="492.9" y="1350.9" width="40" height="36" rx="15" transform="rotate(-20 512.9 1368.9)" fill="url(#tg)"/><rect x="684.4" y="1361.0" width="64" height="30" rx="9" transform="rotate(22 716.4 1376)" fill="url(#tg)"/><rect x="587.4" y="1363.6" width="26" height="32" rx="8" transform="rotate(-25 600.4 1379.6)" fill="url(#tg)"/><rect x="680.1" y="1396.0" width="44" height="28" rx="9" transform="rotate(10 702.1 1410)" fill="url(#tg)"/></g></g><defs><clipPath id="cp1"><circle cx="192.7" cy="1266.3" r="182.3"/></clipPath><filter id="b6" x="-20%" y="-20%" width="140%" height="140%"><feGaussianBlur stdDeviation="6"/></filter><filter id="b3" x="-20%" y="-20%" width="140%" height="140%"><feGaussianBlur stdDeviation="2.5"/></filter><filter id="b1" x="-10%" y="-10%" width="120%" height="120%"><feGaussianBlur stdDeviation="1.1"/></filter><filter id="b05" x="-5%" y="-5%" width="110%" height="110%"><feGaussianBlur stdDeviation="0.55"/></filter><linearGradient id="cbg" x1="0" y1="0" x2="0" y2="1"><stop offset="0" stop-color="#3f7f39"/><stop offset="0.5" stop-color="#4d8f42"/><stop offset="1" stop-color="#5a9a48"/></linearGradient><pattern id="k1" patternUnits="userSpaceOnUse" width="9.4" height="5.7" patternTransform="translate(60,1120) rotate(1)"><rect width="9.4" height="5.7" fill="#e3b646"/><rect x="0.5" y="0.4" width="8.4" height="4.9" rx="2.3" fill="#f6da5e"/><ellipse cx="4.1000000000000005" cy="2.1500000000000004" rx="2.8" ry="1.4" fill="#fdf09c"/></pattern><pattern id="k2" patternUnits="userSpaceOnUse" width="8.2" height="6.2" patternTransform="translate(200,1350) rotate(46)"><rect width="8.2" height="6.2" fill="#e3b646"/><rect x="0.4" y="0.4" width="7.3999999999999995" height="5.4" rx="2.4" fill="#f7dc62"/><ellipse cx="3.6999999999999997" cy="2.5" rx="2.2" ry="1.2" fill="#fdf09c"/></pattern><linearGradient id="sh1" x1="0" y1="0" x2="1" y2="0"><stop offset="0" stop-color="#fff8d0" stop-opacity="0.45"/><stop offset="0.25" stop-color="#fff8d0" stop-opacity="0.1"/><stop offset="0.7" stop-color="#c07800" stop-opacity="0.0"/><stop offset="1" stop-color="#b06a00" stop-opacity="0.4"/></linearGradient><linearGradient id="sh2" x1="0" y1="0" x2="1" y2="1"><stop offset="0" stop-color="#fff8d0" stop-opacity="0.35"/><stop offset="0.4" stop-color="#fff8d0" stop-opacity="0.05"/><stop offset="1" stop-color="#b06a00" stop-opacity="0.35"/></linearGradient><linearGradient id="wh" x1="0" y1="0" x2="0.3" y2="1"><stop offset="0" stop-color="#f2f5e6"/><stop offset="0.6" stop-color="#e3ead2"/><stop offset="1" stop-color="#c5d6a8"/></linearGradient><clipPath id="rcc"><path d="M345.6,1205.5C352.5,1203.6 355.5,1205.5 358.7,1207.4C361.9,1209.3 364.2,1212 364.6,1217.1C365.1,1222.1 366.2,1229.7 361.5,1237.6C356.8,1245.4 344.9,1255 336.3,1264C327.8,1273.1 319.6,1282.4 310.2,1292C300.9,1301.6 289.7,1312.8 280.4,1321.8C271.1,1330.8 260.6,1340.1 254.3,1346C248.1,1351.9 248.1,1355.3 243.2,1357.2C238.2,1359.1 231.3,1358.1 224.5,1357.2C217.8,1356.3 204.7,1355.7 202.5,1351.6C200.4,1347.5 206.3,1340.7 211.5,1332.6C216.7,1324.5 225.5,1313 233.8,1302.8C242.2,1292.5 252.2,1281.7 261.8,1271.1C271.4,1260.6 282.3,1248.1 291.6,1239.4C300.9,1230.7 308.7,1224.6 317.7,1218.9C326.7,1213.3 338.8,1207.4 345.6,1205.5Z"/></clipPath><clipPath id="lcc"><path d="M105.6,1122.2C109.1,1121.8 112.2,1122.6 115.5,1124C118.9,1125.5 122.7,1127.5 125.8,1130.9C128.9,1134.3 131.7,1138.6 134.2,1144.5C136.6,1150.4 138.7,1157 140.4,1166.3C142.1,1175.6 143.5,1188.5 144.4,1200.4C145.3,1212.3 145.8,1223.2 146,1237.7C146.1,1252.2 146.1,1272.4 145.3,1287.4C144.6,1302.4 143.1,1316.3 141.6,1327.8C140.2,1339.3 139.5,1350 136.6,1356.3C133.7,1362.7 131.5,1362.9 124.2,1365.7C117,1368.4 100.2,1372.6 93.2,1373.1C86.1,1373.6 85.6,1374.8 82,1368.8C78.4,1362.8 74.8,1345.5 71.4,1337.1C68,1328.7 63.6,1329.3 61.5,1318.4C59.4,1307.6 59,1286.4 59,1271.9C59,1257.4 60.2,1244.4 61.5,1231.5C62.8,1218.6 64.6,1205.6 66.8,1194.2C68.9,1182.8 71.7,1172.2 74.5,1163.2C77.4,1154.1 80.5,1146 83.9,1139.9C87.2,1133.8 91.1,1129.5 94.7,1126.5C98.3,1123.6 102.1,1122.6 105.6,1122.2Z"/></clipPath></defs><g clip-path="url(#cp1)"><rect x="8.399999999999977" y="1082.0" width="368.6" height="368.6" fill="url(#cbg)"/><g filter="url(#b6)"><ellipse cx="254.7" cy="1116.6" rx="125" ry="45" fill="#2c6a2e" transform="rotate(0 254.7 1116.6)"/><ellipse cx="326.1" cy="1172.5" rx="55" ry="45" fill="#5b9a49" transform="rotate(0 326.1 1172.5)"/><ellipse cx="298.1" cy="1243.9" rx="70" ry="30" fill="#3d7d3a" transform="rotate(-30 298.1 1243.9)"/><path d="M167.7,1175.6L189.4,1125.9L217.4,1110.4L223.6,1119.7L201.9,1163.2L183.2,1203.5Z" fill="#79b05a"/><path d="M173.9,1107.3L192.5,1088.6L217.4,1094.8L198.8,1116.6Z" fill="#5e9a4a"/><ellipse cx="26.4" cy="1271.9" rx="30" ry="100" fill="#2a6438" transform="rotate(0 26.4 1271.9)"/><ellipse cx="18.6" cy="1349.5" rx="30" ry="60" fill="#3b7a3d" transform="rotate(0 18.6 1349.5)"/><path d="M254.7,1175.6L310.6,1160.1L316.8,1169.4L260.9,1188Z" fill="#86b35a"/><ellipse cx="231.4" cy="1158.5" rx="19" ry="21" fill="#a2682a" transform="rotate(0 231.4 1158.5)"/><ellipse cx="344.7" cy="1337.1" rx="45" ry="70" fill="#3a7b36" transform="rotate(0 344.7 1337.1)"/><ellipse cx="357.1" cy="1380.6" rx="40" ry="40" fill="#4a8c3e" transform="rotate(0 357.1 1380.6)"/><path d="M155.3,1216L201.9,1225.3L205,1309.1L173.9,1346.4L149.1,1346.4L149.1,1256.3Z" fill="#1b3a23"/><ellipse cx="186.3" cy="1219.1" rx="30" ry="25" fill="#2a5a30" transform="rotate(0 186.3 1219.1)"/></g><g filter="url(#b1)"><path d="M40.4,1349.5C36.9,1335 40,1284.8 42.9,1256.3C45.7,1227.9 51.4,1200.2 57.5,1178.7C63.5,1157.2 71.7,1140.7 79.2,1127.5C86.7,1114.3 93.9,1105 102.5,1099.5C111,1094 124,1091.4 130.4,1094.2C136.9,1097.1 145.2,1112.1 141.3,1116.6C137.4,1121.1 117.5,1115.5 107.1,1121.2C96.8,1126.9 86.4,1134.4 79.2,1150.7C71.9,1167 67.1,1196.3 63.7,1219.1C60.2,1241.8 58.4,1266.7 58.4,1287.4C58.4,1308.1 66.7,1332.9 63.7,1343.3C60.7,1353.6 43.8,1364 40.4,1349.5Z" fill="#a6cb78"/><path d="M46.6,1343.3C45.3,1329.8 46.8,1283.8 49.7,1256.3C52.5,1228.9 57.7,1199.7 63.7,1178.7C69.6,1157.7 78.4,1142.5 85.4,1130.6C92.4,1118.7 104.3,1107 105.6,1107.3C106.9,1107.5 98.6,1120.2 93.2,1132.1C87.7,1144 78.7,1158 73,1178.7C67.3,1199.4 61.6,1229.9 59,1256.3C56.4,1282.7 59.5,1322.6 57.5,1337.1C55.4,1351.6 47.9,1356.7 46.6,1343.3Z" fill="#c2dc98" opacity="0.7"/><path d="M136.6,1127.5C140.7,1125.1 156.6,1126.2 163,1133.7C169.5,1141.2 174.7,1157.2 175.5,1172.5C176.2,1187.8 170.5,1206.1 167.7,1225.3C164.9,1244.4 161.7,1269.3 158.4,1287.4C155,1305.5 150,1334 147.5,1334C145,1334 143.5,1304.5 143.5,1287.4C143.4,1270.3 147.1,1248.1 147.2,1231.5C147.3,1214.9 145.5,1202 144.1,1188C142.7,1174 139.8,1157.7 138.5,1147.6C137.3,1137.5 132.6,1129.8 136.6,1127.5Z" fill="#b9d59f" opacity="0.9"/><path d="M146,1119.7C149.1,1119.7 167.7,1129 173.9,1141.4C180.1,1153.9 182.7,1181.8 183.2,1194.2C183.7,1206.6 179.3,1219.6 177,1216C174.7,1212.3 172.9,1184.9 169.3,1172.5C165.6,1160.1 159.2,1150.2 155.3,1141.4C151.4,1132.6 142.9,1119.7 146,1119.7Z" fill="#cfe2bd" opacity="0.6"/><path d="M217.4,1259.4L279.5,1239.3L314.3,1163.2L310.6,1160.1L273.3,1225.3L217.4,1248.6Z" fill="#69a650"/><path d="M242.2,1122.8L248.4,1121.2L257.8,1172.5L253.1,1219.1L248.4,1219.1L252.2,1172.5Z" fill="#8ec463"/><path d="M161.5,1321.6C165.1,1315.3 177,1308.9 186.3,1307.6C195.7,1306.3 205.7,1317.2 217.4,1313.8C229,1310.4 245.9,1299 256.2,1287.4C266.6,1275.7 274.8,1250.4 279.5,1243.9C284.2,1237.4 286.7,1240.3 284.2,1248.6C281.6,1256.9 271.5,1278.9 264,1293.6C256.5,1308.4 249.5,1327.5 239.1,1337.1C228.8,1346.7 214.3,1349.8 201.9,1351.1C189.4,1352.3 171.3,1349.8 164.6,1344.8C157.9,1339.9 157.9,1327.8 161.5,1321.6Z" fill="#4c973f"/><path d="M217.4,1315.3C222.6,1308.6 247.2,1296.4 257.8,1284.3C268.4,1272.1 278.5,1244.9 281.1,1242.4C283.6,1239.8 278.7,1258.1 273.3,1268.8C267.9,1279.4 256.2,1296.7 248.4,1306C240.7,1315.3 231.9,1323.1 226.7,1324.7C221.5,1326.2 212.2,1322.1 217.4,1315.3Z" fill="#76b955" opacity="0.85"/><path d="M211.2,1188.9C213.1,1188.9 215.6,1194.4 218,1203.5C220.4,1212.7 224.8,1229.9 225.5,1243.9C226.1,1257.9 223.5,1275.4 221.7,1287.4C220,1299.4 218.7,1310.7 214.9,1316C211.1,1321.2 203.6,1320.6 198.8,1319.1C193.9,1317.5 186.5,1315 185.7,1306.6C184.9,1298.3 191.1,1281.3 193.8,1268.8C196.5,1256.2 199.8,1242.4 201.9,1231.5C203.9,1220.6 204.7,1210.6 206.2,1203.5C207.8,1196.4 209.2,1188.9 211.2,1188.9Z" fill="#5a9e3d"/><path d="M210.9,1191.1C209.8,1190.1 207.7,1196.8 206.2,1203.5C204.7,1210.3 203.9,1220.6 201.9,1231.5C199.8,1242.4 196.4,1256.4 193.8,1268.8C191.2,1281.1 185.5,1302.3 186.3,1305.4C187.2,1308.5 195.2,1297.6 198.8,1287.4C202.3,1277.1 205.2,1256.9 207.5,1243.9C209.7,1231 211.9,1218.6 212.4,1209.8C213,1201 211.9,1192.2 210.9,1191.1Z" fill="#8bc65e" opacity="0.85"/><path d="M208.7,1188L214.3,1188L216.1,1202L208.1,1203.5Z" fill="#c9d890"/><path d="M245.3,1361.3C247.9,1354.7 267.6,1344.7 279.5,1334C291.4,1323.2 304.9,1308.5 316.8,1296.7C328.7,1284.9 341.6,1269.3 350.9,1263.2C360.2,1257.1 369,1254 372.7,1260.1C376.3,1266.2 377.3,1284.9 372.7,1299.8C368,1314.7 355.8,1335.8 344.7,1349.5C333.6,1363.2 316.8,1377.7 305.9,1382.1C295,1386.5 286.5,1377.3 279.5,1375.9C272.5,1374.5 269.7,1376.2 264,1373.7C258.3,1371.3 242.8,1367.9 245.3,1361.3Z" fill="#6ca63e"/><path d="M245.3,1361.3C247.9,1354.7 267.6,1344.7 279.5,1334C291.4,1323.2 304.9,1308.5 316.8,1296.7C328.7,1284.9 341.5,1269.3 350.9,1263.2C360.4,1257.1 369.9,1258 373.3,1260.1C376.7,1262.1 376.7,1267.8 371.4,1275.6C366.1,1283.4 351.8,1295.8 341.6,1306.6C331.5,1317.5 319.9,1330.5 310.6,1340.8C301.2,1351.2 293.5,1363.3 285.7,1368.8C278,1374.2 270.7,1375 264,1373.7C257.2,1372.5 242.8,1367.9 245.3,1361.3Z" fill="#abd066"/><path d="M248.4,1358.8C253.6,1350.5 290.4,1317.3 310.6,1301.4C330.7,1285.4 367,1262.4 369.6,1263.2C372.2,1263.9 341.1,1291.4 326.1,1306C311.1,1320.7 292.4,1342.3 279.5,1351.1C266.6,1359.9 243.3,1367.1 248.4,1358.8Z" fill="#d3e6a0" opacity="0.7"/><path d="M333.9,1211.3C331.5,1208.8 343.3,1198.3 347.8,1194.8C352.3,1191.4 357.7,1188.5 360.9,1190.5C364.1,1192.5 366.1,1199.8 367.1,1206.6C368,1213.5 367.3,1231 366.5,1231.5C365.6,1232 367.2,1213.1 361.8,1209.8C356.4,1206.4 336.2,1213.8 333.9,1211.3Z" fill="#b5d172"/></g><g filter="url(#b05)"><path d="M345.6,1205.5C352.5,1203.6 355.5,1205.5 358.7,1207.4C361.9,1209.3 364.2,1212 364.6,1217.1C365.1,1222.1 366.2,1229.7 361.5,1237.6C356.8,1245.4 344.9,1255 336.3,1264C327.8,1273.1 319.6,1282.4 310.2,1292C300.9,1301.6 289.7,1312.8 280.4,1321.8C271.1,1330.8 260.6,1340.1 254.3,1346C248.1,1351.9 248.1,1355.3 243.2,1357.2C238.2,1359.1 231.3,1358.1 224.5,1357.2C217.8,1356.3 204.7,1355.7 202.5,1351.6C200.4,1347.5 206.3,1340.7 211.5,1332.6C216.7,1324.5 225.5,1313 233.8,1302.8C242.2,1292.5 252.2,1281.7 261.8,1271.1C271.4,1260.6 282.3,1248.1 291.6,1239.4C300.9,1230.7 308.7,1224.6 317.7,1218.9C326.7,1213.3 338.8,1207.4 345.6,1205.5Z" fill="url(#k2)"/><g clip-path="url(#rcc)"><g transform="translate(200,1350) rotate(46)"><rect x="0.4" y="-18.2" width="7.4" height="5.4" rx="2.4" fill="#faf2cf"/><rect x="41.4" y="-55.4" width="7.4" height="5.4" rx="2.4" fill="#faf2cf"/><rect x="-16.0" y="-5.8" width="7.4" height="5.4" rx="2.4" fill="#faf2cf"/><rect x="25.0" y="6.6" width="7.4" height="5.4" rx="2.4" fill="#faf2cf"/><rect x="-40.6" y="-61.6" width="7.4" height="5.4" rx="2.4" fill="#faf2cf"/><rect x="-16.0" y="12.8" width="7.4" height="5.4" rx="2.4" fill="#faf2cf"/><rect x="0.4" y="19.0" width="7.4" height="5.4" rx="2.4" fill="#faf2cf"/><rect x="25.0" y="-173.2" width="7.4" height="5.4" rx="2.4" fill="#faf2cf"/><rect x="-40.6" y="-30.6" width="7.4" height="5.4" rx="2.4" fill="#faf2cf"/><rect x="-32.4" y="-142.2" width="7.4" height="5.4" rx="2.4" fill="#faf2cf"/><rect x="-32.4" y="-55.4" width="7.4" height="5.4" rx="2.4" fill="#faf2cf"/><rect x="8.6" y="-148.4" width="7.4" height="5.4" rx="2.4" fill="#faf2cf"/><rect x="0.4" y="-235.2" width="7.4" height="5.4" rx="2.4" fill="#faf2cf"/><rect x="-40.6" y="19.0" width="7.4" height="5.4" rx="2.4" fill="#faf2cf"/><rect x="-32.4" y="-136.0" width="7.4" height="5.4" rx="2.4" fill="#faf2cf"/><rect x="-40.6" y="-123.6" width="7.4" height="5.4" rx="2.4" fill="#faf2cf"/><rect x="-7.8" y="-198.0" width="7.4" height="5.4" rx="2.4" fill="#faf2cf"/><rect x="-7.8" y="-210.4" width="7.4" height="5.4" rx="2.4" fill="#faf2cf"/><rect x="-40.6" y="-235.2" width="7.4" height="5.4" rx="2.4" fill="#faf2cf"/><rect x="0.4" y="-86.4" width="7.4" height="5.4" rx="2.4" fill="#faf2cf"/><rect x="-32.4" y="-74.0" width="7.4" height="5.4" rx="2.4" fill="#faf2cf"/><rect x="-24.2" y="-129.8" width="7.4" height="5.4" rx="2.4" fill="#faf2cf"/><rect x="-16.0" y="-235.2" width="7.4" height="5.4" rx="2.4" fill="#faf2cf"/><rect x="-40.6" y="-191.8" width="7.4" height="5.4" rx="2.4" fill="#faf2cf"/><rect x="-57.0" y="-216.6" width="7.4" height="5.4" rx="2.4" fill="#faf2cf"/><rect x="0.4" y="-167.0" width="7.4" height="5.4" rx="2.4" fill="#faf2cf"/><rect x="-32.4" y="-61.6" width="7.4" height="5.4" rx="2.4" fill="#faf2cf"/><rect x="-16.0" y="-185.6" width="7.4" height="5.4" rx="2.4" fill="#faf2cf"/><rect x="-32.4" y="-80.2" width="7.4" height="5.4" rx="2.4" fill="#faf2cf"/><rect x="-57.0" y="-129.8" width="7.4" height="5.4" rx="2.4" fill="#faf2cf"/><rect x="-40.6" y="-5.8" width="7.4" height="5.4" rx="2.4" fill="#faf2cf"/><rect x="-40.6" y="-167.0" width="7.4" height="5.4" rx="2.4" fill="#faf2cf"/><rect x="-24.2" y="-179.4" width="7.4" height="5.4" rx="2.4" fill="#faf2cf"/><rect x="-24.2" y="6.6" width="7.4" height="5.4" rx="2.4" fill="#faf2cf"/><rect x="-32.4" y="-210.4" width="7.4" height="5.4" rx="2.4" fill="#faf2cf"/><rect x="-24.2" y="12.8" width="7.4" height="5.4" rx="2.4" fill="#faf2cf"/><rect x="-16.0" y="6.6" width="7.4" height="5.4" rx="2.4" fill="#faf2cf"/><rect x="16.8" y="-49.2" width="7.4" height="5.4" rx="2.4" fill="#faf2cf"/><rect x="-32.4" y="-86.4" width="7.4" height="5.4" rx="2.4" fill="#faf2cf"/><rect x="-24.2" y="-148.4" width="7.4" height="5.4" rx="2.4" fill="#faf2cf"/><rect x="-32.4" y="-160.8" width="7.4" height="5.4" rx="2.4" fill="#faf2cf"/><rect x="25.0" y="-86.4" width="7.4" height="5.4" rx="2.4" fill="#faf2cf"/><rect x="-40.6" y="-204.2" width="7.4" height="5.4" rx="2.4" fill="#faf2cf"/><rect x="-48.8" y="-222.8" width="7.4" height="5.4" rx="2.4" fill="#faf2cf"/><rect x="-24.2" y="-142.2" width="7.4" height="5.4" rx="2.4" fill="#faf2cf"/><rect x="-16.0" y="-136.0" width="7.4" height="5.4" rx="2.4" fill="#faf2cf"/><rect x="-40.6" y="-30.6" width="7.4" height="5.4" rx="2.4" fill="#faf2cf"/><rect x="-40.6" y="-148.4" width="7.4" height="5.4" rx="2.4" fill="#faf2cf"/><rect x="25.0" y="6.6" width="7.4" height="5.4" rx="2.4" fill="#faf2cf"/><rect x="-24.2" y="-154.6" width="7.4" height="5.4" rx="2.4" fill="#faf2cf"/><rect x="-16.0" y="-229.0" width="7.4" height="5.4" rx="2.4" fill="#faf2cf"/><rect x="-32.4" y="-142.2" width="7.4" height="5.4" rx="2.4" fill="#faf2cf"/><rect x="-24.2" y="-92.6" width="7.4" height="5.4" rx="2.4" fill="#faf2cf"/><rect x="-16.0" y="-204.2" width="7.4" height="5.4" rx="2.4" fill="#faf2cf"/><rect x="-16.0" y="-30.6" width="7.4" height="5.4" rx="2.4" fill="#faf2cf"/><rect x="-40.6" y="-5.8" width="7.4" height="5.4" rx="2.4" fill="#faf2cf"/><rect x="0.4" y="-98.8" width="7.4" height="5.4" rx="2.4" fill="#faf2cf"/><rect x="-57.0" y="-229.0" width="7.4" height="5.4" rx="2.4" fill="#faf2cf"/><rect x="-24.2" y="-49.2" width="7.4" height="5.4" rx="2.4" fill="#faf2cf"/><rect x="-16.0" y="-185.6" width="7.4" height="5.4" rx="2.4" fill="#faf2cf"/><rect x="-48.8" y="-61.6" width="7.4" height="5.4" rx="2.4" fill="#faf2cf"/><rect x="33.2" y="-222.8" width="7.4" height="5.4" rx="2.4" fill="#faf2cf"/><rect x="33.2" y="-185.6" width="7.4" height="5.4" rx="2.4" fill="#faf2cf"/><rect x="-16.0" y="-98.8" width="7.4" height="5.4" rx="2.4" fill="#faf2cf"/><rect x="-48.8" y="-74.0" width="7.4" height="5.4" rx="2.4" fill="#faf2cf"/><rect x="-57.0" y="-43.0" width="7.4" height="5.4" rx="2.4" fill="#faf2cf"/><rect x="-40.6" y="-86.4" width="7.4" height="5.4" rx="2.4" fill="#faf2cf"/><rect x="-40.6" y="-210.4" width="7.4" height="5.4" rx="2.4" fill="#faf2cf"/><rect x="-24.2" y="-74.0" width="7.4" height="5.4" rx="2.4" fill="#faf2cf"/><rect x="-7.8" y="-5.8" width="7.4" height="5.4" rx="2.4" fill="#faf2cf"/><rect x="-40.6" y="-24.4" width="7.4" height="5.4" rx="2.4" fill="#faf2cf"/><rect x="-40.6" y="0.4" width="7.4" height="5.4" rx="2.4" fill="#faf2cf"/><rect x="-32.4" y="-191.8" width="7.4" height="5.4" rx="2.4" fill="#faf2cf"/><rect x="-40.6" y="-43.0" width="7.4" height="5.4" rx="2.4" fill="#faf2cf"/><rect x="-32.4" y="-117.4" width="7.4" height="5.4" rx="2.4" fill="#faf2cf"/><rect x="8.6" y="-173.2" width="7.4" height="5.4" rx="2.4" fill="#faf2cf"/><rect x="-16.0" y="-61.6" width="7.4" height="5.4" rx="2.4" fill="#faf2cf"/><rect x="-24.2" y="-111.2" width="7.4" height="5.4" rx="2.4" fill="#faf2cf"/><rect x="-32.4" y="12.8" width="7.4" height="5.4" rx="2.4" fill="#faf2cf"/><rect x="-24.2" y="-86.4" width="7.4" height="5.4" rx="2.4" fill="#faf2cf"/><rect x="-24.2" y="-185.6" width="7.4" height="5.4" rx="2.4" fill="#faf2cf"/><rect x="49.6" y="-222.8" width="7.4" height="5.4" rx="2.4" fill="#faf2cf"/><rect x="-16.0" y="-173.2" width="7.4" height="5.4" rx="2.4" fill="#faf2cf"/><rect x="-24.2" y="-154.6" width="7.4" height="5.4" rx="2.4" fill="#faf2cf"/><rect x="-7.8" y="12.8" width="7.4" height="5.4" rx="2.4" fill="#faf2cf"/><rect x="25.0" y="-111.2" width="7.4" height="5.4" rx="2.4" fill="#faf2cf"/><rect x="49.6" y="6.6" width="7.4" height="5.4" rx="2.4" fill="#faf2cf"/><rect x="-40.6" y="-222.8" width="7.4" height="5.4" rx="2.4" fill="#faf2cf"/><rect x="25.0" y="-129.8" width="7.4" height="5.4" rx="2.4" fill="#faf2cf"/><rect x="-24.2" y="19.0" width="7.4" height="5.4" rx="2.4" fill="#faf2cf"/><rect x="-16.0" y="19.0" width="7.4" height="5.4" rx="2.4" fill="#faf2cf"/><rect x="-32.4" y="-229.0" width="7.4" height="5.4" rx="2.4" fill="#faf2cf"/><rect x="-24.2" y="-142.2" width="7.4" height="5.4" rx="2.4" fill="#faf2cf"/><rect x="41.4" y="-216.6" width="7.4" height="5.4" rx="2.4" fill="#faf2cf"/><rect x="-24.2" y="-61.6" width="7.4" height="5.4" rx="2.4" fill="#faf2cf"/><rect x="-16.0" y="-160.8" width="7.4" height="5.4" rx="2.4" fill="#faf2cf"/><rect x="-24.2" y="-167.0" width="7.4" height="5.4" rx="2.4" fill="#faf2cf"/><rect x="41.4" y="-49.2" width="7.4" height="5.4" rx="2.4" fill="#faf2cf"/><rect x="-24.2" y="-167.0" width="7.4" height="5.4" rx="2.4" fill="#faf2cf"/><rect x="8.6" y="-30.6" width="7.4" height="5.4" rx="2.4" fill="#faf2cf"/><rect x="-32.4" y="-173.2" width="7.4" height="5.4" rx="2.4" fill="#faf2cf"/><rect x="-48.8" y="-74.0" width="7.4" height="5.4" rx="2.4" fill="#faf2cf"/><rect x="-16.0" y="-86.4" width="7.4" height="5.4" rx="2.4" fill="#faf2cf"/><rect x="-32.4" y="12.8" width="7.4" height="5.4" rx="2.4" fill="#faf2cf"/><rect x="-57.0" y="-86.4" width="7.4" height="5.4" rx="2.4" fill="#faf2cf"/><rect x="25.0" y="-36.8" width="7.4" height="5.4" rx="2.4" fill="#faf2cf"/><rect x="-32.4" y="-55.4" width="7.4" height="5.4" rx="2.4" fill="#faf2cf"/><rect x="-48.8" y="19.0" width="7.4" height="5.4" rx="2.4" fill="#faf2cf"/><rect x="-16.0" y="-154.6" width="7.4" height="5.4" rx="2.4" fill="#faf2cf"/><rect x="-48.8" y="-117.4" width="7.4" height="5.4" rx="2.4" fill="#faf2cf"/><rect x="-40.6" y="-111.2" width="7.4" height="5.4" rx="2.4" fill="#faf2cf"/><rect x="-16.0" y="-36.8" width="7.4" height="5.4" rx="2.4" fill="#faf2cf"/><rect x="-24.2" y="-18.2" width="7.4" height="5.4" rx="2.4" fill="#faf2cf"/><rect x="-40.6" y="-229.0" width="7.4" height="5.4" rx="2.4" fill="#faf2cf"/><rect x="-24.2" y="-222.8" width="7.4" height="5.4" rx="2.4" fill="#faf2cf"/><rect x="25.0" y="-185.6" width="7.4" height="5.4" rx="2.4" fill="#faf2cf"/><rect x="8.6" y="-30.6" width="7.4" height="5.4" rx="2.4" fill="#faf2cf"/><rect x="33.2" y="-61.6" width="7.4" height="5.4" rx="2.4" fill="#faf2cf"/><rect x="0.4" y="-5.8" width="7.4" height="5.4" rx="2.4" fill="#faf2cf"/><rect x="-24.2" y="-148.4" width="7.4" height="5.4" rx="2.4" fill="#faf2cf"/><rect x="49.6" y="-18.2" width="7.4" height="5.4" rx="2.4" fill="#faf2cf"/><rect x="8.6" y="-36.8" width="7.4" height="5.4" rx="2.4" fill="#faf2cf"/><rect x="-16.0" y="-136.0" width="7.4" height="5.4" rx="2.4" fill="#faf2cf"/><rect x="-32.4" y="6.6" width="7.4" height="5.4" rx="2.4" fill="#faf2cf"/><rect x="-16.0" y="-30.6" width="7.4" height="5.4" rx="2.4" fill="#faf2cf"/><rect x="-32.4" y="-74.0" width="7.4" height="5.4" rx="2.4" fill="#faf2cf"/><rect x="8.6" y="-235.2" width="7.4" height="5.4" rx="2.4" fill="#faf2cf"/><rect x="-57.0" y="-24.4" width="7.4" height="5.4" rx="2.4" fill="#faf2cf"/><rect x="8.6" y="-80.2" width="7.4" height="5.4" rx="2.4" fill="#faf2cf"/><rect x="16.8" y="-191.8" width="7.4" height="5.4" rx="2.4" fill="#faf2cf"/><rect x="-16.0" y="-173.2" width="7.4" height="5.4" rx="2.4" fill="#faf2cf"/><rect x="-16.0" y="-80.2" width="7.4" height="5.4" rx="2.4" fill="#faf2cf"/><rect x="-16.0" y="-185.6" width="7.4" height="5.4" rx="2.4" fill="#faf2cf"/><rect x="-16.0" y="-111.2" width="7.4" height="5.4" rx="2.4" fill="#faf2cf"/><rect x="16.8" y="-229.0" width="7.4" height="5.4" rx="2.4" fill="#faf2cf"/><rect x="-32.4" y="-229.0" width="7.4" height="5.4" rx="2.4" fill="#faf2cf"/><rect x="-32.4" y="-235.2" width="7.4" height="5.4" rx="2.4" fill="#faf2cf"/><rect x="-16.0" y="-98.8" width="7.4" height="5.4" rx="2.4" fill="#faf2cf"/><rect x="-48.8" y="-43.0" width="7.4" height="5.4" rx="2.4" fill="#faf2cf"/><rect x="-48.8" y="-36.8" width="7.4" height="5.4" rx="2.4" fill="#faf2cf"/><rect x="33.2" y="-160.8" width="7.4" height="5.4" rx="2.4" fill="#faf2cf"/><rect x="-16.0" y="-229.0" width="7.4" height="5.4" rx="2.4" fill="#faf2cf"/><rect x="49.6" y="-30.6" width="7.4" height="5.4" rx="2.4" fill="#faf2cf"/><rect x="8.6" y="-154.6" width="7.4" height="5.4" rx="2.4" fill="#faf2cf"/><rect x="-32.4" y="12.8" width="7.4" height="5.4" rx="2.4" fill="#faf2cf"/><rect x="49.6" y="-24.4" width="7.4" height="5.4" rx="2.4" fill="#faf2cf"/><rect x="-24.2" y="-185.6" width="7.4" height="5.4" rx="2.4" fill="#faf2cf"/><rect x="-40.6" y="-111.2" width="7.4" height="5.4" rx="2.4" fill="#faf2cf"/><rect x="-32.4" y="-154.6" width="7.4" height="5.4" rx="2.4" fill="#faf2cf"/><rect x="-32.4" y="-198.0" width="7.4" height="5.4" rx="2.4" fill="#faf2cf"/></g></g><path d="M345.6,1205.5C352.5,1203.6 355.5,1205.5 358.7,1207.4C361.9,1209.3 364.2,1212 364.6,1217.1C365.1,1222.1 366.2,1229.7 361.5,1237.6C356.8,1245.4 344.9,1255 336.3,1264C327.8,1273.1 319.6,1282.4 310.2,1292C300.9,1301.6 289.7,1312.8 280.4,1321.8C271.1,1330.8 260.6,1340.1 254.3,1346C248.1,1351.9 248.1,1355.3 243.2,1357.2C238.2,1359.1 231.3,1358.1 224.5,1357.2C217.8,1356.3 204.7,1355.7 202.5,1351.6C200.4,1347.5 206.3,1340.7 211.5,1332.6C216.7,1324.5 225.5,1313 233.8,1302.8C242.2,1292.5 252.2,1281.7 261.8,1271.1C271.4,1260.6 282.3,1248.1 291.6,1239.4C300.9,1230.7 308.7,1224.6 317.7,1218.9C326.7,1213.3 338.8,1207.4 345.6,1205.5Z" fill="url(#sh2)"/></g><g filter="url(#b05)"><path d="M105.6,1122.2C109.1,1121.8 112.2,1122.6 115.5,1124C118.9,1125.5 122.7,1127.5 125.8,1130.9C128.9,1134.3 131.7,1138.6 134.2,1144.5C136.6,1150.4 138.7,1157 140.4,1166.3C142.1,1175.6 143.5,1188.5 144.4,1200.4C145.3,1212.3 145.8,1223.2 146,1237.7C146.1,1252.2 146.1,1272.4 145.3,1287.4C144.6,1302.4 143.1,1316.3 141.6,1327.8C140.2,1339.3 139.5,1350 136.6,1356.3C133.7,1362.7 131.5,1362.9 124.2,1365.7C117,1368.4 100.2,1372.6 93.2,1373.1C86.1,1373.6 85.6,1374.8 82,1368.8C78.4,1362.8 74.8,1345.5 71.4,1337.1C68,1328.7 63.6,1329.3 61.5,1318.4C59.4,1307.6 59,1286.4 59,1271.9C59,1257.4 60.2,1244.4 61.5,1231.5C62.8,1218.6 64.6,1205.6 66.8,1194.2C68.9,1182.8 71.7,1172.2 74.5,1163.2C77.4,1154.1 80.5,1146 83.9,1139.9C87.2,1133.8 91.1,1129.5 94.7,1126.5C98.3,1123.6 102.1,1122.6 105.6,1122.2Z" fill="url(#k1)"/><g clip-path="url(#lcc)"><g transform="translate(60,1120) rotate(1)"><rect x="0.5" y="34.6" width="8.4" height="4.9" rx="2.3" fill="#f9f1cc"/><rect x="56.9" y="154.3" width="8.4" height="4.9" rx="2.3" fill="#f9f1cc"/><rect x="19.3" y="74.5" width="8.4" height="4.9" rx="2.3" fill="#f9f1cc"/><rect x="19.3" y="40.3" width="8.4" height="4.9" rx="2.3" fill="#f9f1cc"/><rect x="47.5" y="46.0" width="8.4" height="4.9" rx="2.3" fill="#f9f1cc"/><rect x="47.5" y="188.5" width="8.4" height="4.9" rx="2.3" fill="#f9f1cc"/><rect x="28.7" y="28.9" width="8.4" height="4.9" rx="2.3" fill="#f9f1cc"/><rect x="0.5" y="17.5" width="8.4" height="4.9" rx="2.3" fill="#f9f1cc"/><rect x="75.7" y="211.3" width="8.4" height="4.9" rx="2.3" fill="#f9f1cc"/><rect x="9.9" y="68.8" width="8.4" height="4.9" rx="2.3" fill="#f9f1cc"/><rect x="19.3" y="108.7" width="8.4" height="4.9" rx="2.3" fill="#f9f1cc"/><rect x="28.7" y="217.0" width="8.4" height="4.9" rx="2.3" fill="#f9f1cc"/><rect x="28.7" y="40.3" width="8.4" height="4.9" rx="2.3" fill="#f9f1cc"/><rect x="9.9" y="188.5" width="8.4" height="4.9" rx="2.3" fill="#f9f1cc"/><rect x="47.5" y="6.1" width="8.4" height="4.9" rx="2.3" fill="#f9f1cc"/><rect x="28.7" y="74.5" width="8.4" height="4.9" rx="2.3" fill="#f9f1cc"/><rect x="47.5" y="137.2" width="8.4" height="4.9" rx="2.3" fill="#f9f1cc"/><rect x="0.5" y="222.7" width="8.4" height="4.9" rx="2.3" fill="#f9f1cc"/><rect x="47.5" y="34.6" width="8.4" height="4.9" rx="2.3" fill="#f9f1cc"/><rect x="56.9" y="211.3" width="8.4" height="4.9" rx="2.3" fill="#f9f1cc"/><rect x="75.7" y="217.0" width="8.4" height="4.9" rx="2.3" fill="#f9f1cc"/><rect x="38.1" y="103.0" width="8.4" height="4.9" rx="2.3" fill="#f9f1cc"/><rect x="19.3" y="148.6" width="8.4" height="4.9" rx="2.3" fill="#f9f1cc"/><rect x="75.7" y="137.2" width="8.4" height="4.9" rx="2.3" fill="#f9f1cc"/><rect x="9.9" y="148.6" width="8.4" height="4.9" rx="2.3" fill="#f9f1cc"/><rect x="0.5" y="125.8" width="8.4" height="4.9" rx="2.3" fill="#f9f1cc"/><rect x="0.5" y="131.5" width="8.4" height="4.9" rx="2.3" fill="#f9f1cc"/><rect x="19.3" y="85.9" width="8.4" height="4.9" rx="2.3" fill="#f9f1cc"/><rect x="47.5" y="80.2" width="8.4" height="4.9" rx="2.3" fill="#f9f1cc"/><rect x="28.7" y="199.9" width="8.4" height="4.9" rx="2.3" fill="#f9f1cc"/><rect x="28.7" y="46.0" width="8.4" height="4.9" rx="2.3" fill="#f9f1cc"/><rect x="0.5" y="46.0" width="8.4" height="4.9" rx="2.3" fill="#f9f1cc"/><rect x="28.7" y="97.3" width="8.4" height="4.9" rx="2.3" fill="#f9f1cc"/><rect x="75.7" y="23.2" width="8.4" height="4.9" rx="2.3" fill="#f9f1cc"/><rect x="19.3" y="6.1" width="8.4" height="4.9" rx="2.3" fill="#f9f1cc"/><rect x="38.1" y="125.8" width="8.4" height="4.9" rx="2.3" fill="#f9f1cc"/><rect x="75.7" y="154.3" width="8.4" height="4.9" rx="2.3" fill="#f9f1cc"/><rect x="9.9" y="234.1" width="8.4" height="4.9" rx="2.3" fill="#f9f1cc"/><rect x="9.9" y="205.6" width="8.4" height="4.9" rx="2.3" fill="#f9f1cc"/><rect x="0.5" y="142.9" width="8.4" height="4.9" rx="2.3" fill="#f9f1cc"/><rect x="19.3" y="142.9" width="8.4" height="4.9" rx="2.3" fill="#f9f1cc"/><rect x="19.3" y="182.8" width="8.4" height="4.9" rx="2.3" fill="#f9f1cc"/><rect x="0.5" y="160.0" width="8.4" height="4.9" rx="2.3" fill="#f9f1cc"/><rect x="56.9" y="108.7" width="8.4" height="4.9" rx="2.3" fill="#f9f1cc"/><rect x="38.1" y="137.2" width="8.4" height="4.9" rx="2.3" fill="#f9f1cc"/><rect x="19.3" y="239.8" width="8.4" height="4.9" rx="2.3" fill="#f9f1cc"/><rect x="9.9" y="11.8" width="8.4" height="4.9" rx="2.3" fill="#f9f1cc"/><rect x="28.7" y="234.1" width="8.4" height="4.9" rx="2.3" fill="#f9f1cc"/><rect x="0.5" y="120.1" width="8.4" height="4.9" rx="2.3" fill="#f9f1cc"/><rect x="0.5" y="217.0" width="8.4" height="4.9" rx="2.3" fill="#f9f1cc"/><rect x="47.5" y="28.9" width="8.4" height="4.9" rx="2.3" fill="#f9f1cc"/><rect x="28.7" y="160.0" width="8.4" height="4.9" rx="2.3" fill="#f9f1cc"/><rect x="0.5" y="91.6" width="8.4" height="4.9" rx="2.3" fill="#f9f1cc"/><rect x="66.3" y="57.4" width="8.4" height="4.9" rx="2.3" fill="#f9f1cc"/><rect x="28.7" y="222.7" width="8.4" height="4.9" rx="2.3" fill="#f9f1cc"/><rect x="0.5" y="228.4" width="8.4" height="4.9" rx="2.3" fill="#f9f1cc"/><rect x="9.9" y="80.2" width="8.4" height="4.9" rx="2.3" fill="#f9f1cc"/><rect x="19.3" y="194.2" width="8.4" height="4.9" rx="2.3" fill="#f9f1cc"/><rect x="66.3" y="51.7" width="8.4" height="4.9" rx="2.3" fill="#f9f1cc"/><rect x="28.7" y="222.7" width="8.4" height="4.9" rx="2.3" fill="#f9f1cc"/><rect x="47.5" y="194.2" width="8.4" height="4.9" rx="2.3" fill="#f9f1cc"/><rect x="19.3" y="108.7" width="8.4" height="4.9" rx="2.3" fill="#f9f1cc"/><rect x="19.3" y="177.1" width="8.4" height="4.9" rx="2.3" fill="#f9f1cc"/><rect x="75.7" y="228.4" width="8.4" height="4.9" rx="2.3" fill="#f9f1cc"/><rect x="38.1" y="103.0" width="8.4" height="4.9" rx="2.3" fill="#f9f1cc"/><rect x="9.9" y="234.1" width="8.4" height="4.9" rx="2.3" fill="#f9f1cc"/><rect x="28.7" y="91.6" width="8.4" height="4.9" rx="2.3" fill="#f9f1cc"/><rect x="28.7" y="17.5" width="8.4" height="4.9" rx="2.3" fill="#f9f1cc"/><rect x="0.5" y="103.0" width="8.4" height="4.9" rx="2.3" fill="#f9f1cc"/><rect x="19.3" y="40.3" width="8.4" height="4.9" rx="2.3" fill="#f9f1cc"/><rect x="9.9" y="34.6" width="8.4" height="4.9" rx="2.3" fill="#f9f1cc"/><rect x="19.3" y="205.6" width="8.4" height="4.9" rx="2.3" fill="#f9f1cc"/><rect x="19.3" y="177.1" width="8.4" height="4.9" rx="2.3" fill="#f9f1cc"/><rect x="47.5" y="182.8" width="8.4" height="4.9" rx="2.3" fill="#f9f1cc"/><rect x="9.9" y="46.0" width="8.4" height="4.9" rx="2.3" fill="#f9f1cc"/><rect x="28.7" y="165.7" width="8.4" height="4.9" rx="2.3" fill="#f9f1cc"/><rect x="38.1" y="142.9" width="8.4" height="4.9" rx="2.3" fill="#f9f1cc"/><rect x="47.5" y="57.4" width="8.4" height="4.9" rx="2.3" fill="#f9f1cc"/><rect x="47.5" y="108.7" width="8.4" height="4.9" rx="2.3" fill="#f9f1cc"/><rect x="19.3" y="160.0" width="8.4" height="4.9" rx="2.3" fill="#f9f1cc"/><rect x="9.9" y="171.4" width="8.4" height="4.9" rx="2.3" fill="#f9f1cc"/><rect x="28.7" y="199.9" width="8.4" height="4.9" rx="2.3" fill="#f9f1cc"/><rect x="66.3" y="114.4" width="8.4" height="4.9" rx="2.3" fill="#f9f1cc"/><rect x="0.5" y="28.9" width="8.4" height="4.9" rx="2.3" fill="#f9f1cc"/><rect x="38.1" y="182.8" width="8.4" height="4.9" rx="2.3" fill="#f9f1cc"/><rect x="47.5" y="108.7" width="8.4" height="4.9" rx="2.3" fill="#f9f1cc"/><rect x="28.7" y="131.5" width="8.4" height="4.9" rx="2.3" fill="#f9f1cc"/><rect x="47.5" y="137.2" width="8.4" height="4.9" rx="2.3" fill="#f9f1cc"/><rect x="47.5" y="165.7" width="8.4" height="4.9" rx="2.3" fill="#f9f1cc"/><rect x="38.1" y="165.7" width="8.4" height="4.9" rx="2.3" fill="#f9f1cc"/><rect x="28.7" y="171.4" width="8.4" height="4.9" rx="2.3" fill="#f9f1cc"/><rect x="19.3" y="91.6" width="8.4" height="4.9" rx="2.3" fill="#f9f1cc"/><rect x="0.5" y="137.2" width="8.4" height="4.9" rx="2.3" fill="#f9f1cc"/><rect x="56.9" y="74.5" width="8.4" height="4.9" rx="2.3" fill="#f9f1cc"/><rect x="47.5" y="142.9" width="8.4" height="4.9" rx="2.3" fill="#f9f1cc"/><rect x="28.7" y="68.8" width="8.4" height="4.9" rx="2.3" fill="#f9f1cc"/><rect x="0.5" y="11.8" width="8.4" height="4.9" rx="2.3" fill="#f9f1cc"/><rect x="75.7" y="63.1" width="8.4" height="4.9" rx="2.3" fill="#f9f1cc"/><rect x="0.5" y="239.8" width="8.4" height="4.9" rx="2.3" fill="#f9f1cc"/><rect x="56.9" y="28.9" width="8.4" height="4.9" rx="2.3" fill="#f9f1cc"/><rect x="0.5" y="199.9" width="8.4" height="4.9" rx="2.3" fill="#f9f1cc"/><rect x="38.1" y="40.3" width="8.4" height="4.9" rx="2.3" fill="#f9f1cc"/><rect x="9.9" y="11.8" width="8.4" height="4.9" rx="2.3" fill="#f9f1cc"/><rect x="19.3" y="40.3" width="8.4" height="4.9" rx="2.3" fill="#f9f1cc"/><rect x="56.9" y="91.6" width="8.4" height="4.9" rx="2.3" fill="#f9f1cc"/><rect x="28.7" y="194.2" width="8.4" height="4.9" rx="2.3" fill="#f9f1cc"/><rect x="19.3" y="131.5" width="8.4" height="4.9" rx="2.3" fill="#f9f1cc"/><rect x="19.3" y="182.8" width="8.4" height="4.9" rx="2.3" fill="#f9f1cc"/><rect x="9.9" y="228.4" width="8.4" height="4.9" rx="2.3" fill="#f9f1cc"/><rect x="0.5" y="245.5" width="8.4" height="4.9" rx="2.3" fill="#f9f1cc"/></g></g><path d="M105.6,1122.2C109.1,1121.8 112.2,1122.6 115.5,1124C118.9,1125.5 122.7,1127.5 125.8,1130.9C128.9,1134.3 131.7,1138.6 134.2,1144.5C136.6,1150.4 138.7,1157 140.4,1166.3C142.1,1175.6 143.5,1188.5 144.4,1200.4C145.3,1212.3 145.8,1223.2 146,1237.7C146.1,1252.2 146.1,1272.4 145.3,1287.4C144.6,1302.4 143.1,1316.3 141.6,1327.8C140.2,1339.3 139.5,1350 136.6,1356.3C133.7,1362.7 131.5,1362.9 124.2,1365.7C117,1368.4 100.2,1372.6 93.2,1373.1C86.1,1373.6 85.6,1374.8 82,1368.8C78.4,1362.8 74.8,1345.5 71.4,1337.1C68,1328.7 63.6,1329.3 61.5,1318.4C59.4,1307.6 59,1286.4 59,1271.9C59,1257.4 60.2,1244.4 61.5,1231.5C62.8,1218.6 64.6,1205.6 66.8,1194.2C68.9,1182.8 71.7,1172.2 74.5,1163.2C77.4,1154.1 80.5,1146 83.9,1139.9C87.2,1133.8 91.1,1129.5 94.7,1126.5C98.3,1123.6 102.1,1122.6 105.6,1122.2Z" fill="url(#sh1)"/></g><g filter="url(#b1)"><path d="M58.4,1315.3C60.8,1312.1 68.2,1313.8 72,1318.4C75.9,1323.1 79.4,1334.9 81.4,1343.3C83.3,1351.7 86.2,1366.1 83.9,1368.8C81.5,1371.4 71.4,1364.6 67.1,1359.4C62.7,1354.3 59.2,1345.1 57.8,1337.7C56.3,1330.4 56,1318.6 58.4,1315.3Z" fill="#e4ebd2"/><path d="M34.2,1349.5C34.7,1343.8 42.4,1344.8 49.7,1346.4C56.9,1348 68.8,1353.1 77.6,1358.8C86.4,1364.5 88.5,1370.7 102.5,1380.6C116.5,1390.4 144.9,1406.7 161.5,1417.8C178.1,1429 208.1,1442.4 201.9,1447.3C195.7,1452.2 144.9,1452.2 124.2,1447.3C103.5,1442.4 90.6,1429 77.6,1417.8C64.7,1406.7 53.8,1391.9 46.6,1380.6C39.3,1369.2 33.6,1355.2 34.2,1349.5Z" fill="#6fae50"/><path d="M35.7,1351.1C37.5,1348.7 44.8,1346.7 51.2,1348C57.7,1349.2 69.6,1354.2 74.5,1358.8C79.5,1363.5 83.9,1374.3 80.7,1375.9C77.6,1377.5 62.6,1370.5 55.9,1368.1C49.2,1365.8 43.7,1364.8 40.4,1361.9C37,1359.1 33.9,1353.4 35.7,1351.1Z" fill="#d4e6bd"/><path d="M46.6,1368.1C48.1,1365 71.4,1372.3 80.7,1377.5C90.1,1382.6 94.2,1391.9 102.5,1399.2C110.8,1406.4 129.9,1417.8 130.4,1420.9C131,1424 115.4,1422 105.6,1417.8C95.8,1413.7 81.3,1404.4 71.4,1396.1C61.6,1387.8 45,1371.2 46.6,1368.1Z" fill="#8fc56a"/><path d="M62.1,1405.4C67.8,1404.4 88,1414.2 102.5,1420.9C117,1427.7 150.6,1441.4 149.1,1445.8C147.5,1450.2 106.6,1450.4 93.2,1447.3C79.7,1444.2 73.5,1434.1 68.3,1427.1C63.1,1420.2 56.4,1406.4 62.1,1405.4Z" fill="#4f9442"/><path d="M90.1,1375.9C91.6,1369.3 121.1,1363.1 139.8,1359.4C158.4,1355.8 181.2,1353.2 201.9,1354.2C222.6,1355.1 245.9,1358 264,1365C282.1,1372 304.8,1388.7 310.6,1396.1C316.4,1403.4 306,1403.2 298.8,1409.1C291.5,1415.1 280.6,1425.4 267.1,1431.8C253.5,1438.2 232.9,1447.1 217.4,1447.3C201.9,1447.6 188.4,1441.4 173.9,1433.4C159.4,1425.3 144.4,1408.8 130.4,1399.2C116.5,1389.6 88.5,1382.5 90.1,1375.9Z" fill="url(#wh)"/><path d="M93.2,1377.5C94.7,1374.3 122.2,1367.6 139.8,1365C157.3,1362.4 180.6,1360.1 198.8,1361.9C216.9,1363.7 250.5,1373.6 248.4,1375.9C246.4,1378.2 206,1374.6 186.3,1375.9C166.7,1377.2 146,1383.4 130.4,1383.7C114.9,1383.9 91.6,1380.6 93.2,1377.5Z" fill="#f7f9ef" opacity="0.9"/><path d="M121.1,1396.1C129.4,1394.5 165.1,1390.9 186.3,1393C207.6,1395.1 235,1402.3 248.4,1408.5C261.9,1414.7 268.1,1427.1 267.1,1430.2C266,1433.4 255.7,1431.3 242.2,1427.1C228.8,1423 203.9,1409.5 186.3,1405.4C168.7,1401.3 147.5,1403.9 136.6,1402.3C125.8,1400.7 112.8,1397.6 121.1,1396.1Z" fill="#b9cfa0" opacity="0.75"/><path d="M130.4,1403.9C132.5,1400.5 159.4,1403.6 173.9,1407C188.4,1410.3 205.5,1418.1 217.4,1424C229.3,1430 248.4,1438.8 245.3,1442.7C242.2,1446.6 212.7,1449.9 198.8,1447.3C184.8,1444.7 172.9,1434.4 161.5,1427.1C150.1,1419.9 128.4,1407.2 130.4,1403.9Z" fill="#7db35a"/><path d="M136.6,1407C136.6,1405.4 162.5,1408.3 173.9,1411.6C185.3,1415 205,1425.6 205,1427.1C205,1428.7 185.3,1424.3 173.9,1420.9C162.5,1417.6 136.6,1408.5 136.6,1407Z" fill="#a9d080" opacity="0.8"/><path d="M288.8,1383.7C288.3,1379.5 304.3,1386 313.7,1380.6C323,1375.1 334.9,1363.5 344.7,1351.1C354.6,1338.6 367.2,1306.3 372.7,1306C378.1,1305.8 379.9,1336.6 377.3,1349.5C374.7,1362.4 367.2,1374.3 357.1,1383.7C347,1393 328.2,1405.4 316.8,1405.4C305.4,1405.4 289.3,1387.8 288.8,1383.7Z" fill="#4a8e3c"/><path d="M313.7,1380.6C314.7,1376.4 332.8,1363 341.6,1352.6C350.4,1342.3 363.9,1319 366.5,1318.4C369,1317.9 362.3,1339.7 357.1,1349.5C352,1359.3 342.7,1372.3 335.4,1377.5C328.2,1382.6 312.6,1384.7 313.7,1380.6Z" fill="#6aab4a" opacity="0.8"/></g><g fill="none" stroke="#d5e6c2" stroke-width="0.7" opacity="0.8" filter="url(#b05)"><path d="M140.4,1130.7Q158.4,1140.7 172.8,1166.6"/><path d="M140.0,1141.4Q148.1,1141.0 165.1,1160.6"/><path d="M141.3,1150.1Q150.9,1150.6 162.5,1162.7"/><path d="M141.2,1159.4Q154.7,1154.0 164.6,1169.2"/><path d="M137.5,1170.3Q155.4,1179.0 163.2,1194.7"/><path d="M137.2,1181.8Q150.9,1179.9 159.2,1195.3"/><path d="M137.7,1192.7Q152.4,1192.4 160.7,1204.2"/><path d="M139.2,1206.7Q157.1,1202.2 165.3,1221.0"/><path d="M138.2,1216.2Q151.5,1223.2 171.7,1237.4"/></g></g><circle cx="192.8" cy="1266.3" r="188.3" fill="none" stroke="#4d4b55" stroke-width="2.3" stroke-dasharray="6.90 9.31" stroke-dashoffset="-12.21" stroke-linecap="round" opacity="1.0"/><circle cx="650.0" cy="1272.8" r="188.3" fill="none" stroke="#4d4b55" stroke-width="2.3" stroke-dasharray="6.90 9.31" stroke-dashoffset="-12.21" stroke-linecap="round" opacity="1.0"/><circle cx="1090.1" cy="1272.8" r="188.3" fill="none" stroke="#4d4b55" stroke-width="2.3" stroke-dasharray="6.90 9.31" stroke-dashoffset="-12.21" stroke-linecap="round" opacity="0.9"/><g transform="translate(0,0)" fill="none" stroke="#6f9e5a" stroke-width="5.2" stroke-linecap="round" stroke-linejoin="round"><path d="M348,1104.3C350.1,1101.8 355.2,1093.7 360.4,1089.5C365.6,1085.3 373.6,1081.5 379,1079.4C384.4,1077.3 388.1,1076.8 393,1077.1C397.9,1077.4 404.1,1078.9 408.5,1081C412.9,1083.1 416.3,1086.7 419.4,1089.5C422.5,1092.3 425.2,1094.2 427.1,1097.8C429,1101.4 431,1106.1 431,1111.2C431,1116.3 429.3,1123.6 427.1,1128.3C424.9,1133 420.9,1137.1 417.8,1139.2C414.7,1141.3 411.1,1141.7 408.5,1140.7C405.9,1139.7 403.3,1136.1 402.3,1133C401.3,1129.9 401.3,1126.2 402.3,1122.1C403.3,1117.9 405.6,1112.1 408.5,1108.1C411.4,1104.1 415.5,1100.1 419.4,1098C423.3,1095.9 427.7,1095.3 431.8,1095.4C435.9,1095.5 440.1,1096.4 444.2,1098.8C448.3,1101.2 452.5,1104.8 456.6,1109.7C460.8,1114.6 465.7,1121.3 469.1,1128.3C472.5,1135.3 475.5,1147.7 476.8,1151.6"/><path d="M459.5,1144.8 L477.4,1153 L488.3,1137.8"/><path d="M343.4,1119.6 L344.9,1113.8"/><circle cx="343.6" cy="1127.2" r="2.7" fill="#6f9e5a" stroke="none"/></g><g transform="translate(446.9,0)" fill="none" stroke="#6f9e5a" stroke-width="5.2" stroke-linecap="round" stroke-linejoin="round"><path d="M348,1104.3C350.1,1101.8 355.2,1093.7 360.4,1089.5C365.6,1085.3 373.6,1081.5 379,1079.4C384.4,1077.3 388.1,1076.8 393,1077.1C397.9,1077.4 404.1,1078.9 408.5,1081C412.9,1083.1 416.3,1086.7 419.4,1089.5C422.5,1092.3 425.2,1094.2 427.1,1097.8C429,1101.4 431,1106.1 431,1111.2C431,1116.3 429.3,1123.6 427.1,1128.3C424.9,1133 420.9,1137.1 417.8,1139.2C414.7,1141.3 411.1,1141.7 408.5,1140.7C405.9,1139.7 403.3,1136.1 402.3,1133C401.3,1129.9 401.3,1126.2 402.3,1122.1C403.3,1117.9 405.6,1112.1 408.5,1108.1C411.4,1104.1 415.5,1100.1 419.4,1098C423.3,1095.9 427.7,1095.3 431.8,1095.4C435.9,1095.5 440.1,1096.4 444.2,1098.8C448.3,1101.2 452.5,1104.8 456.6,1109.7C460.8,1114.6 465.7,1121.3 469.1,1128.3C472.5,1135.3 475.5,1147.7 476.8,1151.6"/><path d="M459.5,1144.8 L477.4,1153 L488.3,1137.8"/><path d="M343.4,1119.6 L344.9,1113.8"/><circle cx="343.6" cy="1127.2" r="2.7" fill="#6f9e5a" stroke="none"/></g>
<g fill="#5b6266"><path d="M355.2,237.3 Q383.5,213.9 420.4,187.8 L404.7,164.5 L459.6,174.6 L444.3,227 L429.7,203.6 Q399.8,227 369.3,254.1 Z"/><path d="M801,166.1 Q836.5,186 866.7,215 L885.8,192.2 L890.1,249.2 L835.8,248.7 L854.8,228.6 Q822.2,201 790.1,183.5 Z"/><path d="M981.3,406.8 L1002,403.6 Q1009.5,440 1010.1,484.6 L1038.4,484 L1000.3,525.7 L964.1,484.8 L991.1,484.6 Q988,444 981.3,406.8 Z"/><path d="M955.9,680.1 L972.7,691.5 Q955,727 923.3,756.2 L943.9,775.2 L887.9,779.3 L890.1,725.2 L909.7,743.2 Q936,714 955.9,680.1 Z"/><path d="M711.8,863.9 L717.1,884.5 Q670.7,894.5 617.1,894.3 Q590,894 566.3,888.9 L561.8,917.5 L528.8,873.8 L575.2,844.3 L570.7,872 Q617.1,876.3 678.8,870.7 Q632,852 599.3,825.5 L587.7,838.9 L582.9,803.2 L620.7,801.1 L610,814.8 Q650,848 711.8,863.9 Z"/><path d="M384.9,790.3 L369.7,803.9 Q340,772 320.2,739.2 L296.3,752.8 L306.1,699.3 L359.9,715 L337.6,730 Q358,762 384.9,790.3 Z"/><path d="M243.8,515.3 L265,516.4 Q266.5,478 270.4,439.2 L297.1,443.6 L270.4,396.5 L224.6,429.1 L253,433.8 Q245,470 243.8,515.3 Z"/></g>
<path fill="#8fbb77" d="M545.4,447 L574,399.5 Q578,391 588,390.9 L598.7,390.9 Q618,393 627.4,415.2 L591.1,474.6 Z"/><path fill="#6f9e5a" d="M613.9,392.6 L668,392 Q678,392 683,400 L694.3,420.2 L702,416 Q708,413.5 708.5,420 L690,459 Q687,465.5 680,464.8 L640,458.5 Q632,456.5 638,451.5 L646.5,446.3 Q646,418 613.9,392.6 Z"/><path fill="#8fbb77" d="M673.7,486.5 L718.3,458.3 L746.5,503.9 Q753,522 745,533 Q738,541 726,542.5 L709.6,545.7 Z"/><path fill="#6f9e5a" d="M641.5,576 Q638.5,572 641.5,568 L667,536.5 Q673,531 674,539 L674.8,549.6 Q703,556 736.7,544.1 L708,594 Q703,601.5 694,601.9 L677,602.8 L677,612 Q676,620 670,615.5 Z"/><path fill="#8fbb77" d="M547,551.7 L617.8,550.2 L619.8,603.5 L563,603.5 Q541,600 542.2,569.1 Q543,558 547,551.7 Z"/><path fill="#6f9e5a" d="M536.7,574.6 L505.5,521.5 Q502.5,515 505,508.5 L511.7,490.9 L507,486 Q503,480 510,478.5 L551,473.7 Q558,473 560.5,479 L577,516.5 Q579,525 572,522.7 L561.7,518 Q541,538 536.7,574.6 Z"/>
<path fill="#5b6266" d="M615,20.2L642.4,20.2L642.6,27.2C643.8,27.4 647.7,27.5 649.5,28.2C651.3,28.9 652.6,31 653.2,31.6C652.4,33.2 649.9,37.9 648.5,41C647.1,44.1 644.3,46.8 644.9,50.5C645.5,54.2 648.8,58.2 652,63C655.2,67.8 660,72.9 664,79.5C668,86.1 673,94 676.2,102.7C679.4,111.4 682.3,124.4 683.4,131.7C684.5,139 683.8,142.1 682.6,146.7C681.4,151.3 680,156 676.2,159.5C672.4,163 667.7,165.9 660,167.6C652.3,169.3 639.9,169.8 629.9,169.8C619.9,169.8 607.5,169.1 599.8,167.6C592.1,166.1 587.4,163.7 583.5,160.6C579.6,157.5 578.1,153.8 576.6,149C575.1,144.2 574,139.4 574.8,131.7C575.6,124 577.9,111.4 581.2,102.7C584.5,94 590.2,86.1 594.5,79.5C598.8,72.9 603.7,67.8 607,63C610.3,58.2 613.8,54.2 614.2,50.5C614.6,46.8 611.1,44.1 609.5,41C607.9,37.9 605.2,33.2 604.3,31.6C604.9,31 606.2,28.9 608,28.2C609.8,27.5 613.7,27.4 614.8,27.2Z"/><text x="629.6" y="145.8" text-anchor="middle" font-family="Liberation Sans, sans-serif" font-size="12.3" fill="#fff" stroke="#fff" stroke-width="0.35">industrially</text><text x="631.6" y="158.8" text-anchor="middle" font-family="Liberation Sans, sans-serif" font-size="12.3" fill="#fff" stroke="#fff" stroke-width="0.35">compostable</text><g transform="translate(551.4,41.9) rotate(25.3)"><path fill="#5b6266" d="M-23.7,-17L23.7,-17L26.3,-15L23.7,-11.3L26.3,-9.3L23.7,-5.7L26.3,-3.7L23.7,0L26.3,2L23.7,5.7L26.3,7.7L23.7,11.3L26.3,13.3L23.7,17L-23.7,17L-26.3,15L-23.7,11.3L-26.3,9.3L-23.7,5.7L-26.3,3.7L-23.7,-0L-26.3,-2L-23.7,-5.7L-26.3,-7.7L-23.7,-11.3L-26.3,-13.3L-23.7,-17Z"/><g transform="translate(-1.5,6.5) rotate(0) scale(0.95)" fill="#fff"><circle cx="1.3" cy="-0.4" r="4.1" fill="none" stroke="#8d9396" stroke-width="0.7"/><path d="M2.2,-5.2 A5.6,5.6 0 1,0 4.6,3.4 A4.2,4.2 0 1,1 2.2,-5.2Z"/><path d="M1.2,-4.8 Q2.4,-8 2.2,-10.6" stroke="#fff" stroke-width="1.1" fill="none"/><ellipse cx="-1.2" cy="-12.6" rx="3.3" ry="1.8" transform="rotate(38 -1.2 -12.6)"/><ellipse cx="6.6" cy="-11.2" rx="3.4" ry="1.8" transform="rotate(-12 6.6 -11.2)"/></g></g><path fill="#5b6266" d="M476.1,102C476.8,100.8 477.8,97.5 480.2,94.8C482.6,92.1 487,87.9 490.4,85.6C493.8,83.3 497.3,81.9 500.7,81C504.1,80.1 508.3,79.8 510.9,80.2C513.4,80.6 515,81.8 516,83.4C517,85 516.9,87 516.6,89.7C516.3,92.4 514.4,97.9 514,99.5L504.5,109C504,107.9 503,104.1 501.5,102.3C500,100.5 497.6,98.3 495.6,97.9C493.6,97.5 491.6,98.9 489.4,100C487.2,101.1 484.3,103.6 482.3,104.4C480.3,105.2 478.4,105.2 477.4,104.8C476.4,104.4 476.3,102.5 476.1,102Z"/><path fill="#5b6266" d="M503.2,106.5L509.4,141.5C510.3,142.3 512.2,145.3 515,146.5C517.8,147.7 522.4,148.7 526.2,148.6C530,148.5 534.8,147.5 538,146.2C541.2,144.9 544.2,141.9 545.4,141L546.3,102.5Z"/><ellipse cx="524.8" cy="105.4" rx="21.6" ry="7.4" transform="rotate(-4 524.8 105.4)" fill="#5b6266"/><ellipse cx="524.8" cy="104.3" rx="19.6" ry="5.2" transform="rotate(-4 524.8 104.3)" fill="#fff"/><path d="M504.4,116.3 Q524,124.5 546.2,114.2" fill="none" stroke="#fff" stroke-width="1.4"/><g transform="translate(526.3,139.2) rotate(0) scale(0.95)" fill="#fff"><circle cx="1.3" cy="-0.4" r="4.1" fill="none" stroke="#8d9396" stroke-width="0.7"/><path d="M2.2,-5.2 A5.6,5.6 0 1,0 4.6,3.4 A4.2,4.2 0 1,1 2.2,-5.2Z"/><path d="M1.2,-4.8 Q2.4,-8 2.2,-10.6" stroke="#fff" stroke-width="1.1" fill="none"/><ellipse cx="-1.2" cy="-12.6" rx="3.3" ry="1.8" transform="rotate(38 -1.2 -12.6)"/><ellipse cx="6.6" cy="-11.2" rx="3.4" ry="1.8" transform="rotate(-12 6.6 -11.2)"/></g><path fill="#5b6266" d="M671.2,0.3C672.7,0.4 677.5,0.2 680,1.2C682.5,2.1 684.9,3.9 686.5,6C688.1,8.1 689.1,12.3 689.6,13.6C688.3,13.7 684.4,14.8 682,14.2C679.6,13.6 677.3,12.3 675.5,10C673.7,7.7 671.9,1.9 671.2,0.3Z"/><path d="M695.6,2.6 Q690.5,9 691.8,20.5" fill="none" stroke="#5b6266" stroke-width="1.7" stroke-linecap="round"/><path fill="#5b6266" d="M678.5,20.2C679.8,20.3 683.8,20.9 686,20.8C688.2,20.7 691,19.8 692,19.6C693,19.2 696,18.5 698,17.5C700,16.5 703.2,14.2 704.2,13.6C703.7,14.8 702.1,18.2 701.4,20.7C700.7,23.2 700.4,27.1 700.2,28.4L705.8,32.7C705.5,33.5 704.4,36 704.3,37.5C704.1,39 704.8,40.9 704.9,41.6L708.5,47.6L707.3,50.5C707.8,51.5 709,54.4 710.5,56.2C712,58.1 715.2,60.7 716.2,61.6C714.3,61.6 708.5,60.6 705,61.5C701.5,62.4 696.6,66.2 694.9,67.1C694.7,66.3 694,63.9 693.6,62.5C693.2,61.1 692.5,59.2 692.3,58.6L689.2,52.6C689.7,51.8 691.9,49.1 692.4,47.5C692.9,45.9 692.5,43.9 692.5,43.2L687.3,33L688.6,31C688.3,30.3 687.3,28.1 686.8,27C686.3,25.9 686.8,25.3 685.4,24.2C684,23.1 679.6,20.9 678.5,20.2Z"/><path fill="#5b6266" d="M753.3,64.6L759.9,63.9L757.6,78L754.8,78Z"/><path fill="#5b6266" d="M696.5,104.5C698.6,104.3 705,104.2 709,103.5C713,102.8 717.2,101.8 720.5,100.2C723.8,98.6 726.3,96.5 729,94C731.7,91.5 734.2,88 736.5,85.5C738.8,83 740.8,80.5 743,79C745.2,77.5 747.3,76.7 749.5,76.2C751.7,75.8 754.9,76.3 756,76.3C757.1,77.4 760.8,80.1 762.5,82.9C764.2,85.7 764.9,89.5 766,93C767.1,96.5 767.5,98.7 769.1,103.6C770.7,108.5 774.6,116.8 775.8,122.2C776.9,127.7 777.2,131.8 776,136.3C774.8,140.8 770.9,146.4 768.4,149.4C765.9,152.4 762.1,153.5 760.9,154.3C760.7,152.8 760,148.7 759.6,145C759.2,141.3 759,136.5 758.4,132C757.8,127.5 757,122.5 756,117.8C755,113.1 753.5,107.8 752.3,104C751.1,100.2 749.2,96.4 748.6,94.9C747.6,95.8 744.5,98.3 742.9,100.5C741.3,102.7 740.5,105.8 739,108C737.5,110.2 735.8,112 734,113.6C732.2,115.2 730.6,116.6 728.5,117.5C726.4,118.4 723.8,118.9 721.5,119C719.2,119.1 717.1,119.1 714.5,118C711.9,116.9 709,114.8 706,112.5C703,110.2 698.1,105.8 696.5,104.5Z"/><path fill="#5b6266" d="M747.8,100.3C748.4,101.4 750.7,104.8 751.4,107C752.1,109.2 752.1,111 751.8,113.6C751.5,116.2 750.8,119.6 749.8,122.5C748.8,125.4 747.5,128.5 746,131.2C744.5,133.9 742.8,136.3 741,138.5C739.2,140.7 737.5,142.8 735.5,144.2C733.5,145.6 729.8,146.4 728.7,146.9C728.5,146 727.5,144 727.6,141.5C727.8,139 728.5,135.6 729.6,132C730.7,128.4 732.4,124.2 734.2,120C736.1,115.8 738.4,110.3 740.7,107C743,103.7 746.6,101.4 747.8,100.3Z"/><path fill="#5b6266" d="M243.4,343.4C243.3,343 242.4,341.8 242.6,341C242.8,340.2 244.2,338.9 244.5,338.5L298,272C298.8,271.2 300.6,268.5 302.5,267.5C304.4,266.5 306.9,266 309.2,266C311.5,266 314.4,266.4 316.5,267.3C318.6,268.2 320.1,269.5 322,271.5C323.9,273.5 325.7,276.8 327.7,279.5C329.7,282.2 331.6,285.4 334,288C336.4,290.6 338.9,293.1 342.2,295.4C345.5,297.7 350.4,300.2 354,302C357.6,303.8 361.5,304.5 364,306C366.5,307.5 368.2,310.2 369,311L387.5,338.5C387.8,339.1 389.4,341 389.2,342C388.9,343 386.5,343.9 386,344.3L288,359.5C287,359.6 283.8,360.2 282,360C280.2,359.8 277.8,358.8 277,358.5Z"/><path fill="#5b6266" d="M297.3,373.2 L304,370.6 L307.6,371 L307.4,374.6 L300,374.8Z"/><path fill="#5b6266" d="M318.4,362 Q320,360.4 323.5,361.5 L327.8,360.8 L327,364 L321,364.6Z"/><path fill="#5b6266" d="M338.9,367.6 L345,368 L350.2,370 L345.2,374.9 L341.5,372.5Z"/><path fill="#5b6266" d="M351,358 Q353,355.5 355.2,357.5 L356.2,360.8 L352.4,361Z"/><path fill="#5b6266" d="M369.3,357.5 Q373,354.8 377,356.6 L377.9,359.8 L374.5,358.4 L370.5,359.2Z"/><rect x="946.3" y="262.9" width="27.8" height="3.4" rx="1.7" fill="#5b6266"/><path fill="#5b6266" d="M912.9,282.2 Q913.4,271 923.5,269.8 L996.5,269.5 Q1006.5,271 1007,282.2 Z"/><path fill="#5b6266" d="M919.2,286.3 L1001.1,286.3 Q1003.3,286.4 1003.1,288.6 L996.6,360.5 Q995.4,370.6 985.5,370.9 L935.5,370.9 Q925,370.6 923.8,360.5 L917.2,288.6 Q917,286.4 919.2,286.3Z"/><g transform="translate(934.2,299.8) scale(1.0)"><g fill="#fff"><path d="M20.4,1.2L27.1,7.8L19.2,19.2L11.8,13.1Z"/><path d="M26.2,1.8L37.2,0.2L49.1,20.9L54.3,18.3L48.5,28.9L36.4,28.9L39.9,25.6Z"/><path d="M0.2,21.6L13.4,21.2L20,31L14.9,31L8.5,42.7L1.6,32.3L4.4,25.8Z"/><path d="M12.5,37.5L26.8,37.5L26.8,47.4L14,47.4Q9.5,46.5 10.2,42Q10.8,39 12.5,37.5Z"/><path d="M31,46C31.4,45 32.2,41.8 33.5,40C34.8,38.2 36.3,36.8 38.6,35.5C40.9,34.2 44.8,32.6 47.5,32C50.2,31.4 53.4,32 54.6,32C54.6,33.1 54.9,36.6 54.4,38.5C53.9,40.4 52.8,41.9 51.5,43.2C50.2,44.5 48.9,45.7 46.8,46.4C44.6,47.1 41.2,47.6 38.6,47.5C36,47.4 32.3,46.2 31,46Z"/></g><path d="M40,45.6 Q48,43 52.8,34.8" fill="none" stroke="#5b6266" stroke-width="1.1" stroke-linecap="round"/></g><rect x="1004.3" y="559" width="104.8" height="70.8" rx="3.8" fill="#5b6266"/><path fill="#5b6266" d="M943.1,643.8 L943.1,636.4 Q943.1,635 944.6,635 L946.8,635 L946.8,603.5 Q946.8,601.5 948,599.8 L965.5,575.2 Q967,573 970,573 L996.2,573 Q999.2,573 999.2,576 L999.2,635 L1108.3,635 Q1109.8,635 1109.8,636.5 L1109.8,642.3 Q1109.8,643.8 1108.3,643.8 Z"/><path fill="#fff" d="M970.6,583.6 L991,583.6 L991,601.8 L960.2,601.8 Z"/><circle cx="974.8" cy="646.8" r="16.2" fill="#fff"/><circle cx="974.8" cy="646.8" r="8.9" fill="none" stroke="#5b6266" stroke-width="5.9"/><circle cx="1076.3" cy="646.8" r="16.2" fill="#fff"/><circle cx="1076.3" cy="646.8" r="8.9" fill="none" stroke="#5b6266" stroke-width="5.9"/><g transform="translate(1028.2,570.8) scale(1.0)"><g fill="#fff"><path d="M20.4,1.2L27.1,7.8L19.2,19.2L11.8,13.1Z"/><path d="M26.2,1.8L37.2,0.2L49.1,20.9L54.3,18.3L48.5,28.9L36.4,28.9L39.9,25.6Z"/><path d="M0.2,21.6L13.4,21.2L20,31L14.9,31L8.5,42.7L1.6,32.3L4.4,25.8Z"/><path d="M12.5,37.5L26.8,37.5L26.8,47.4L14,47.4Q9.5,46.5 10.2,42Q10.8,39 12.5,37.5Z"/><path d="M31,46C31.4,45 32.2,41.8 33.5,40C34.8,38.2 36.3,36.8 38.6,35.5C40.9,34.2 44.8,32.6 47.5,32C50.2,31.4 53.4,32 54.6,32C54.6,33.1 54.9,36.6 54.4,38.5C53.9,40.4 52.8,41.9 51.5,43.2C50.2,44.5 48.9,45.7 46.8,46.4C44.6,47.1 41.2,47.6 38.6,47.5C36,47.4 32.3,46.2 31,46Z"/></g><path d="M40,45.6 Q48,43 52.8,34.8" fill="none" stroke="#5b6266" stroke-width="1.1" stroke-linecap="round"/></g><rect x="750.1" y="910.3" width="222" height="8.5" fill="#5b6266"/><path fill="#5b6266" d="M761.4,911 L761.4,809.6 Q800,800 826,801 Q860,801.5 889.1,809.6 L889.1,911 Z"/><path fill="#5b6266" d="M899.5,911 L899.5,824 Q925,824.5 940,827 Q955,829.5 961.3,832.5 L961.3,911 Z"/><rect x="856.1" y="801" width="15.9" height="110" fill="#fff"/><rect x="858.5" y="804.40" width="11.2" height="5.4" fill="#5b6266"/><rect x="858.5" y="812.65" width="11.2" height="5.4" fill="#5b6266"/><rect x="858.5" y="820.90" width="11.2" height="5.4" fill="#5b6266"/><rect x="858.5" y="829.15" width="11.2" height="5.4" fill="#5b6266"/><rect x="858.5" y="837.40" width="11.2" height="5.4" fill="#5b6266"/><rect x="858.5" y="845.65" width="11.2" height="5.4" fill="#5b6266"/><rect x="858.5" y="853.90" width="11.2" height="5.4" fill="#5b6266"/><rect x="858.5" y="862.15" width="11.2" height="5.4" fill="#5b6266"/><rect x="858.5" y="870.40" width="11.2" height="5.4" fill="#5b6266"/><rect x="858.5" y="878.65" width="11.2" height="5.4" fill="#5b6266"/><rect x="858.5" y="886.90" width="11.2" height="5.4" fill="#5b6266"/><rect x="858.5" y="895.15" width="11.2" height="5.4" fill="#5b6266"/><rect x="858.5" y="903.40" width="11.2" height="8.5" fill="#5b6266"/><path fill="#fff" d="M750.1,906.1 L822.4,906.1 Q824.6,906.3 824.6,908.2 Q824.6,910.2 822.4,910.3 L750.1,910.3 Z"/><path fill="#5b6266" d="M417.1,808.6C417.8,807.7 419.2,804.4 421,803C422.8,801.6 426.2,801.4 428,800.5C429.8,799.6 430.3,798.2 432,797.5C433.7,796.8 436,797 438,796.5C440,796 442,794.8 444.2,794.3C446.4,793.8 449.2,793.2 451.3,793.2C453.4,793.2 455.3,793.8 457,794.5C458.7,795.2 460.8,796.9 461.6,797.4L466.9,790C467.2,790.8 467.7,793.4 468.5,795C469.3,796.6 471,798.7 471.5,799.4C472.2,799.1 474.5,797.6 476,797.5C477.5,797.4 479.6,798.6 480.3,798.8C479.7,799.2 477.5,800.6 476.5,801.5C475.5,802.4 474.8,803.6 474.5,804C475.2,804.2 477.5,804.7 478.5,805.5C479.5,806.3 480.2,808.2 480.6,808.8C478,809.5 470.7,812.2 465,813C459.3,813.8 452,813.9 446.2,813.8C440.4,813.7 434.9,813.4 430,812.5C425.1,811.6 419.2,809.2 417.1,808.6Z"/><path fill="#5b6266" d="M408.4,811.7C409.3,811.5 411.9,810.6 414,810.6C416.1,810.6 417.7,810.9 420.7,811.7C423.7,812.5 427.8,814.5 432,815.5C436.2,816.5 441.5,817.5 446.2,817.6C450.9,817.7 455.7,816.9 460,816.2C464.3,815.6 468.1,814.5 471.8,813.7C475.5,812.9 479,811.8 482,811.6C485,811.4 488.4,812.5 489.7,812.7C489.3,813.5 487.8,815.8 487.2,817.5C486.6,819.2 486.2,818.9 486.1,822.9C486,826.9 486,834.8 486.6,841.3C487.2,847.8 489.4,854.1 489.7,861.8C490,869.5 488.2,880.5 488.6,887.3C489,894.1 490.8,898.4 492.2,902.7C493.6,907 496.4,911.2 497.3,912.9C496.1,913.1 492.6,913.5 490,914.2C487.4,914.9 486,915.8 482,917C478,918.2 471.4,920.3 466,921.2C460.6,922.1 455.1,922.6 449.3,922.6C443.5,922.6 436.6,921.8 431,921C425.4,920.2 419.8,919 415.6,918C411.4,917 408.6,915.6 406,914.8C403.4,913.9 400.8,913.2 399.7,912.9C400.6,911.2 403.9,907 405.3,902.7C406.8,898.4 407.9,894.1 408.4,887.3C408.9,880.5 407.8,869.5 408.4,861.8C409,854.1 411.4,847.8 412,841.3C412.6,834.8 412.2,826.9 412,822.9C411.8,818.9 411.4,818.9 410.8,817C410.2,815.1 408.8,812.6 408.4,811.7Z"/><g transform="translate(425.2,831.1) scale(0.827)"><g fill="#fff"><path d="M20.4,1.2L27.1,7.8L19.2,19.2L11.8,13.1Z"/><path d="M26.2,1.8L37.2,0.2L49.1,20.9L54.3,18.3L48.5,28.9L36.4,28.9L39.9,25.6Z"/><path d="M0.2,21.6L13.4,21.2L20,31L14.9,31L8.5,42.7L1.6,32.3L4.4,25.8Z"/><path d="M12.5,37.5L26.8,37.5L26.8,47.4L14,47.4Q9.5,46.5 10.2,42Q10.8,39 12.5,37.5Z"/><path d="M31,46C31.4,45 32.2,41.8 33.5,40C34.8,38.2 36.3,36.8 38.6,35.5C40.9,34.2 44.8,32.6 47.5,32C50.2,31.4 53.4,32 54.6,32C54.6,33.1 54.9,36.6 54.4,38.5C53.9,40.4 52.8,41.9 51.5,43.2C50.2,44.5 48.9,45.7 46.8,46.4C44.6,47.1 41.2,47.6 38.6,47.5C36,47.4 32.3,46.2 31,46Z"/></g><path d="M40,45.6 Q48,43 52.8,34.8" fill="none" stroke="#5b6266" stroke-width="1.1" stroke-linecap="round"/></g><rect x="424.8" y="876.6" width="49.5" height="3" fill="#fff"/><rect x="424.8" y="887.9" width="49.5" height="3" fill="#fff"/><rect x="424.8" y="898.1" width="49.5" height="3" fill="#fff"/><path fill="#5b6266" d="M552.1,664.3C553.2,665.4 556.5,668.5 558.5,671C560.5,673.5 562.1,676.1 563.8,679.3C565.5,682.5 567.3,686.2 568.5,690C569.7,693.8 570.7,698.4 571.1,702.2C571.5,706 571.5,709.7 571,713C570.5,716.3 569.5,719.5 568.2,722.2C567,724.9 565.1,727.4 563.5,729C561.9,730.6 560.2,731.6 558.5,731.6C556.8,731.6 554.7,730.5 553.2,729C551.7,727.5 550.2,725.2 549.3,722.5C548.4,719.8 548.1,716.4 548,713C547.9,709.6 548.1,705.8 548.6,702C549.1,698.2 550.6,694 551.3,690C552,686 552.5,682.3 552.6,678C552.7,673.7 552.2,666.6 552.1,664.3Z"/><rect x="532.8" y="742.1" width="48.1" height="15.8" fill="#5b6266"/><circle cx="557.3" cy="750.1" r="14.3" fill="#5b6266"/><path fill="#5b6266" d="M265.9,641 L267.8,600 L269.6,562 L271.6,552 L272.6,600 L273.4,641 Z"/><path fill="#5b6266" d="M264.5,546.1C265.2,546.5 267.3,547.5 268.5,548.5C269.7,549.5 271.1,550.4 271.7,552.4C272.3,554.4 271.9,559.1 272,560.4C271.1,560 268,559.6 266.5,558.2C265,556.8 263.3,554.2 263,552.2C262.7,550.2 264.2,547.1 264.5,546.1Z"/><path fill="#5b6266" d="M249.4,562.3C250.9,562.2 255.9,561.1 258.4,561.6C260.9,562.1 262.9,564 264.5,565.5C266.1,567 267.1,568.9 268,570.5C268.9,572.1 269.3,574.4 269.6,575.2C268.1,575.1 263.2,575.4 260.5,574.6C257.8,573.8 255.2,572.3 253.4,570.3C251.6,568.2 250.1,563.6 249.4,562.3Z"/><path fill="#5b6266" d="M272,578.6C272.4,577.5 273.2,573.9 274.5,572C275.8,570.1 277.2,568.5 279.6,567.3C282,566.1 285.8,564.7 288.7,564.7C291.6,564.7 295.4,566.8 296.8,567.2C296.7,568.2 297,571.3 296.3,573C295.6,574.7 294.7,576 292.8,577.4C290.9,578.8 287.5,580.8 284.7,581.4C281.9,582 278.1,581.3 276,580.8C273.9,580.3 272.7,579 272,578.6Z"/><path fill="#5b6266" d="M228.7,578.4C230.6,578.2 237.1,577.1 240.3,577.2C243.5,577.3 245.7,577.9 248,578.8C250.3,579.7 252.4,580.9 254.4,582.4C256.4,583.9 258.3,585.6 260,587.5C261.7,589.4 263.1,591.4 264.5,593.5C265.9,595.6 267.8,598.9 268.5,600C267.3,599.9 263.7,599.5 261.5,599.2C259.3,598.9 257.8,598.6 255.4,598.1C253,597.6 249.5,597.1 247,596.3C244.5,595.5 242.8,595.1 240.3,593.5C237.8,591.9 234.1,589 232.2,586.5C230.3,584 229.3,579.8 228.7,578.4Z"/><path fill="#5b6266" d="M272,609.6C272.4,608.3 273.4,604.2 274.5,602C275.6,599.8 277,598.4 278.6,596.6C280.2,594.9 282,593 284,591.5C286,590 288.4,588.5 290.7,587.5C293,586.5 295.6,585.9 298,585.5C300.4,585.1 302.1,584.8 304.9,584.9C307.7,585 313,586 314.6,586.2C314.4,587.1 314.3,589.8 313.5,591.5C312.7,593.2 312,594.6 309.9,596.6C307.8,598.6 303.4,602.1 300.8,603.6C298.2,605.1 296.4,605.3 294,605.8C291.6,606.3 289.4,606.4 286.7,606.7C284,607 280.4,607.2 278,607.7C275.6,608.2 273,609.3 272,609.6Z"/><path fill="#5b6266" d="M246.8,609.7C248.4,609.4 253.6,607.6 256.4,608.1C259.2,608.6 261.7,611 263.5,612.7C265.3,614.4 266.8,617.3 267.4,618.2C265.7,618.2 260.1,618.9 257.4,618.5C254.7,618.1 253.2,617.2 251.4,615.7C249.6,614.2 247.6,610.7 246.8,609.7Z"/><path fill="#5b6266" d="M219.1,661.2C218.9,660.2 222.2,657.9 224,656.5C225.8,655.1 227.7,654.1 230.2,653.1C232.7,652.1 236,651.5 239,650.8C242,650.1 246,649.8 248.4,649C250.8,648.2 251.8,647 253.5,646C255.2,645 256.9,644 258.4,643C259.9,642 261.1,640.8 262.5,640C263.9,639.2 264.8,638.5 266.5,638.5C268.2,638.5 270.6,639.4 273,640C275.4,640.6 278.4,641.6 280.6,642C282.8,642.4 284.3,642 286,642.2C287.7,642.4 289,642.5 290.7,643C292.4,643.5 294.3,644.5 296,645.5C297.7,646.5 298.8,647.9 300.8,649C302.8,650.1 305.6,651 308,652C310.4,653 313.1,654.1 315,655.1C316.9,656.1 318.2,656.8 319.5,657.8C320.8,658.8 323.1,660.2 322.5,661.2C321.9,662.2 318.4,663.4 316,663.7C313.6,664 310.5,663 308,662.8C305.5,662.6 303.1,662.4 300.8,662.7C298.5,663 296,664.2 294,664.6C292,665 290.7,665.3 288.7,665.2C286.7,665.1 284.2,664.4 282,664C279.8,663.6 277.9,662.8 275.6,662.7C273.3,662.6 270.5,663 268,663.2C265.5,663.5 263,663.8 260.5,664.2C258,664.6 255.5,665.5 253,665.8C250.5,666.1 247.8,666.4 245.3,666.2C242.8,666 240.2,665.1 238,664.4C235.8,663.7 234.4,662.6 232.2,662.2C230,661.9 227.2,662.5 225,662.3C222.8,662.1 219.3,662.2 219.1,661.2Z"/>
</svg>
<div class="t" style="left:22.6px;top:254.10px;font-size:33.0px;line-height:34.928px;color:#575d61;text-align:left;transform:scaleY(1.045);transform-origin:0 0;">Compostable<br>plastic<br>granulates</div>
<div class="t" style="left:426px;top:202.35px;font-size:33.0px;line-height:34.833px;color:#575d61;text-align:center;transform:scaleY(1.045);transform-origin:0 0;width:400px;">Compostable<br>plastic products<br>&amp; biowaste</div>
<div class="t" style="left:1036.8px;top:280.55px;font-size:33.0px;line-height:34.833px;color:#575d61;text-align:left;transform:scaleY(1.045);transform-origin:0 0;">Biowaste<br>bin</div>
<div class="t" style="left:1135.3px;top:569.30px;font-size:33.0px;line-height:35.311px;color:#575d61;text-align:left;transform:scaleY(1.045);transform-origin:0 0;">Collection<br>of waste</div>
<div class="t" style="left:997.3px;top:845.15px;font-size:33.0px;line-height:34.258px;color:#575d61;text-align:left;transform:scaleY(1.045);transform-origin:0 0;">Organic<br>recycling plant*</div>
<div class="t" style="left:599.5px;top:730.60px;font-size:33.0px;line-height:34.928px;color:#575d61;text-align:left;transform:scaleY(1.045);transform-origin:0 0;">Biogas</div>
<div class="t" style="left:230.9px;top:841.20px;font-size:33.0px;line-height:34.928px;color:#575d61;text-align:left;transform:scaleY(1.045);transform-origin:0 0;">Compost</div>
<div class="t" style="left:22.2px;top:568.60px;font-size:33.0px;line-height:34.737px;color:#575d61;text-align:left;transform:scaleY(1.045);transform-origin:0 0;">Plant-based<br>feedstocks</div>
<div class="t" style="left:-1px;top:979.55px;font-size:41px;line-height:47.525px;color:#4a7a2e;text-align:center;transform:scaleY(1.01);transform-origin:0 0;width:1288px;-webkit-text-stroke:1.25px #4a7a2e;letter-spacing:1.665px;">PSM material, helping reduce environmental impact</div>
</body></html>
